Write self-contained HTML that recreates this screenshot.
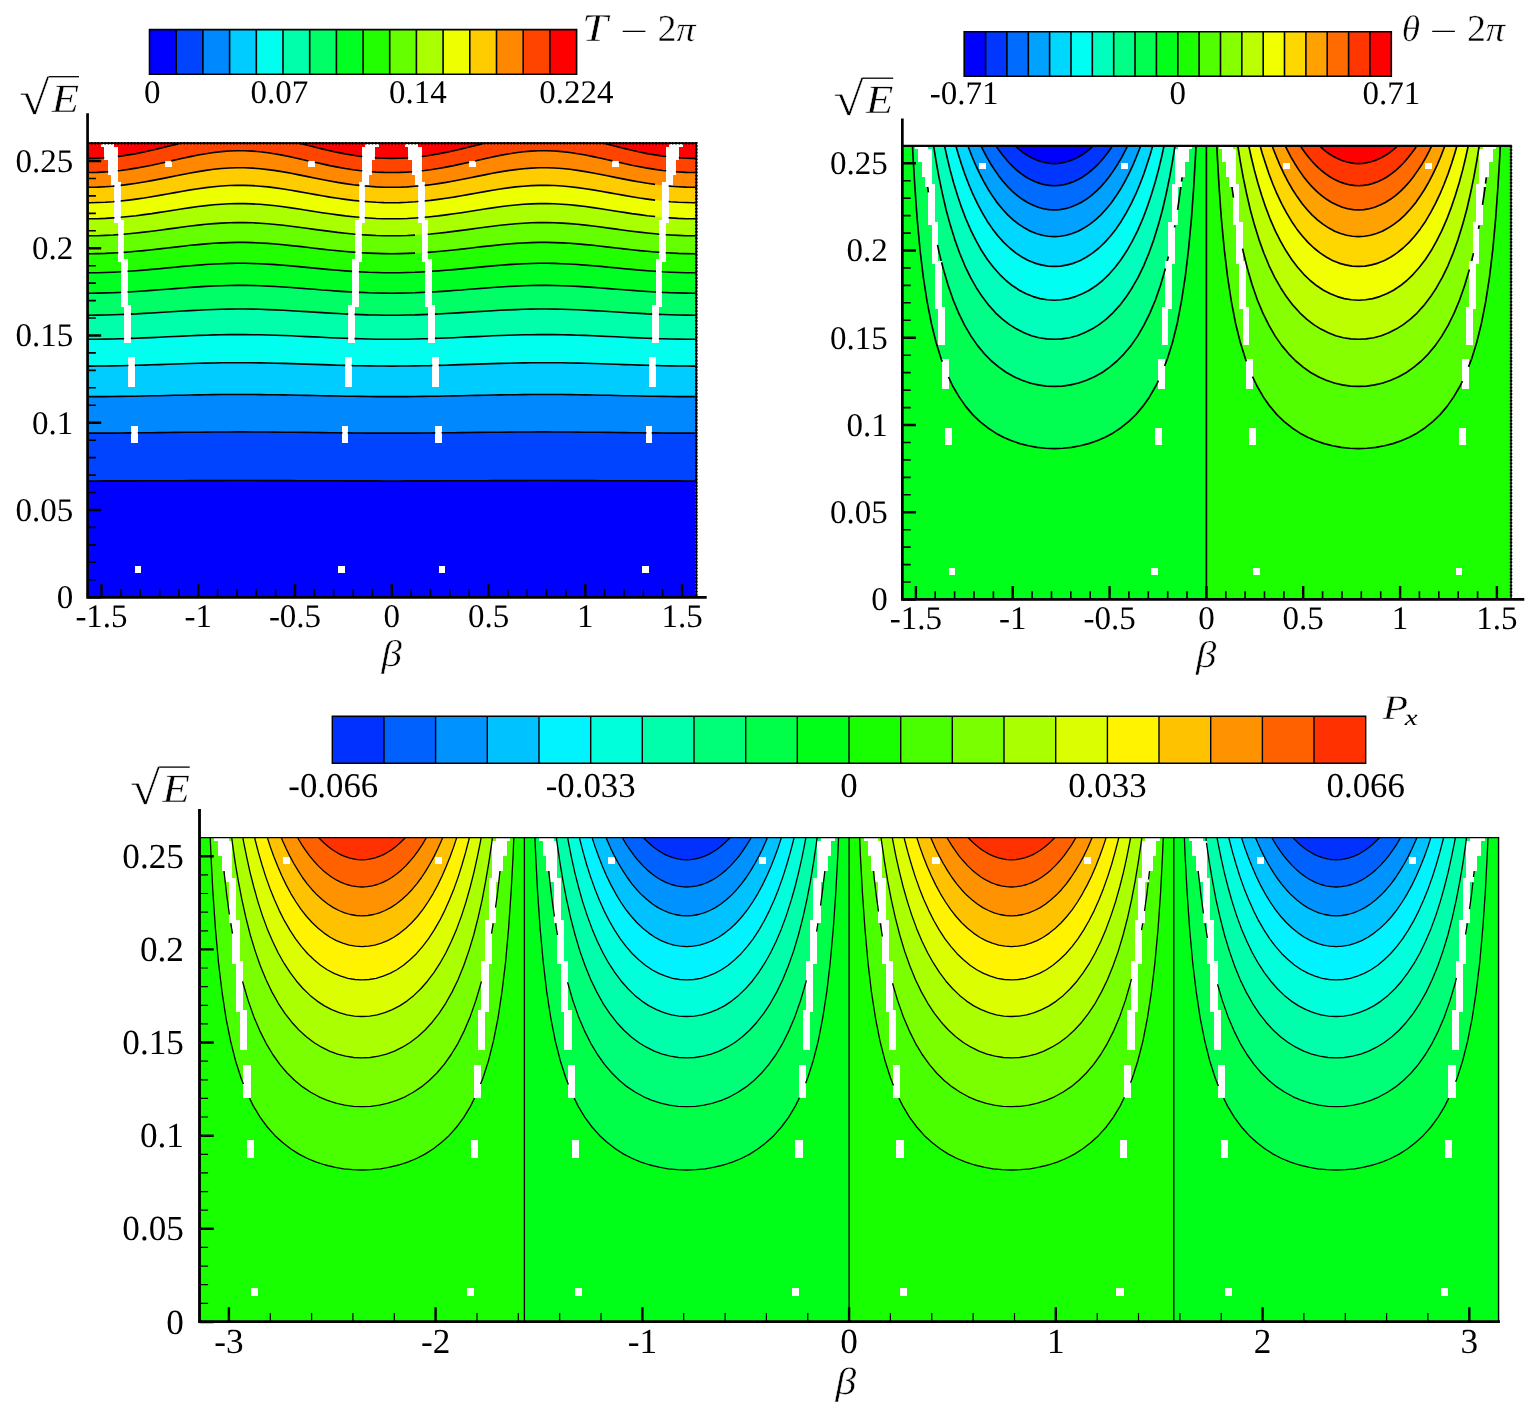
<!DOCTYPE html>
<html lang="en"><head><meta charset="utf-8"><title>Contour plots</title>
<style>html,body{margin:0;padding:0;background:#fff;overflow:hidden}svg{display:block}text{font-family:"Liberation Serif","DejaVu Serif",serif;fill:#000;text-rendering:geometricPrecision}.i{font-style:italic}.t{stroke:#fff;stroke-width:.45px}</style></head><body>
<svg width="1539" height="1411" viewBox="0 0 1539 1411">
<rect width="1539" height="1411" fill="#fff"/>
<clipPath id="c1"><rect x="87.8" y="143.2" width="607.9" height="454"/></clipPath>
<g clip-path="url(#c1)" stroke="#000" stroke-width="1.6" stroke-linejoin="round">
<rect x="87.8" y="143.2" width="607.9" height="454" fill="#0000ff" stroke="none"/>
<path d="M82 481L89.8 481L97.5 481L105.3 480.9L113 480.9L120.7 480.9L128.5 480.9L136.2 480.9L144 480.8L151.7 480.8L159.5 480.8L167.2 480.7L175 480.7L182.7 480.7L190.4 480.6L198.2 480.6L205.9 480.6L213.7 480.6L221.4 480.6L229.2 480.5L236.9 480.5L244.6 480.5L252.4 480.5L260.1 480.6L267.9 480.6L275.6 480.6L283.4 480.6L291.1 480.6L298.9 480.7L306.6 480.7L314.3 480.7L322.1 480.8L329.8 480.8L337.6 480.8L345.3 480.9L353.1 480.9L360.8 480.9L368.5 480.9L376.3 480.9L384 481L391.8 481L399.5 481L407.3 480.9L415 480.9L422.8 480.9L430.5 480.9L438.2 480.9L446 480.8L453.7 480.8L461.5 480.8L469.2 480.7L477 480.7L484.7 480.7L492.5 480.6L500.2 480.6L507.9 480.6L515.7 480.6L523.4 480.6L531.2 480.5L538.9 480.5L546.7 480.5L554.4 480.5L562.1 480.6L569.9 480.6L577.6 480.6L585.4 480.6L593.1 480.6L600.9 480.7L608.6 480.7L616.4 480.7L624.1 480.8L631.8 480.8L639.6 480.8L647.3 480.9L655.1 480.9L662.8 480.9L670.6 480.9L678.3 480.9L686 481L693.8 481L701.5 481L701.5 133.2L82 133.2Z" fill="#0044ff" stroke="none"/>
<path d="M82 433.1L89.8 433.1L97.5 433.1L105.3 433.1L113 433.1L120.7 433L128.5 432.9L136.2 432.9L144 432.8L151.7 432.7L159.5 432.6L167.2 432.5L175 432.4L182.7 432.3L190.4 432.2L198.2 432.2L205.9 432.1L213.7 432L221.4 432L229.2 432L236.9 431.9L244.6 431.9L252.4 432L260.1 432L267.9 432L275.6 432.1L283.4 432.2L291.1 432.3L298.9 432.3L306.6 432.4L314.3 432.5L322.1 432.6L329.8 432.7L337.6 432.8L345.3 432.9L353.1 433L360.8 433L368.5 433.1L376.3 433.1L384 433.1L391.8 433.1L399.5 433.1L407.3 433.1L415 433.1L422.8 433L430.5 433L438.2 432.9L446 432.8L453.7 432.7L461.5 432.6L469.2 432.5L477 432.4L484.7 432.3L492.5 432.3L500.2 432.2L507.9 432.1L515.7 432L523.4 432L531.2 432L538.9 431.9L546.7 431.9L554.4 432L562.1 432L569.9 432L577.6 432.1L585.4 432.2L593.1 432.2L600.9 432.3L608.6 432.4L616.4 432.5L624.1 432.6L631.8 432.7L639.6 432.8L647.3 432.9L655.1 432.9L662.8 433L670.6 433.1L678.3 433.1L686 433.1L693.8 433.1L701.5 433.1L701.5 133.2L82 133.2Z" fill="#0088ff" stroke="none"/>
<path d="M82 396.6L89.8 396.6L97.5 396.6L105.3 396.6L113 396.5L120.7 396.4L128.5 396.3L136.2 396.2L144 396L151.7 395.8L159.5 395.7L167.2 395.5L175 395.3L182.7 395.2L190.4 395L198.2 394.9L205.9 394.7L213.7 394.6L221.4 394.5L229.2 394.5L236.9 394.5L244.6 394.5L252.4 394.5L260.1 394.6L267.9 394.7L275.6 394.8L283.4 394.9L291.1 395L298.9 395.2L306.6 395.4L314.3 395.5L322.1 395.7L329.8 395.9L337.6 396L345.3 396.2L353.1 396.3L360.8 396.4L368.5 396.5L376.3 396.6L384 396.6L391.8 396.6L399.5 396.6L407.3 396.6L415 396.5L422.8 396.4L430.5 396.3L438.2 396.2L446 396L453.7 395.9L461.5 395.7L469.2 395.5L477 395.4L484.7 395.2L492.5 395L500.2 394.9L507.9 394.8L515.7 394.7L523.4 394.6L531.2 394.5L538.9 394.5L546.7 394.5L554.4 394.5L562.1 394.5L569.9 394.6L577.6 394.7L585.4 394.9L593.1 395L600.9 395.2L608.6 395.3L616.4 395.5L624.1 395.7L631.8 395.8L639.6 396L647.3 396.2L655.1 396.3L662.8 396.4L670.6 396.5L678.3 396.6L686 396.6L693.8 396.6L701.5 396.6L701.5 133.2L82 133.2Z" fill="#00ccff" stroke="none"/>
<path d="M82 366.1L89.8 366.1L97.5 366L105.3 366L113 365.9L120.7 365.7L128.5 365.5L136.2 365.3L144 365.1L151.7 364.8L159.5 364.6L167.2 364.3L175 364L182.7 363.8L190.4 363.5L198.2 363.3L205.9 363.1L213.7 363L221.4 362.8L229.2 362.8L236.9 362.7L244.6 362.7L252.4 362.8L260.1 362.9L267.9 363L275.6 363.2L283.4 363.4L291.1 363.6L298.9 363.9L306.6 364.1L314.3 364.4L322.1 364.6L329.8 364.9L337.6 365.2L345.3 365.4L353.1 365.6L360.8 365.8L368.5 365.9L376.3 366L384 366L391.8 366.1L399.5 366L407.3 366L415 365.9L422.8 365.8L430.5 365.6L438.2 365.4L446 365.2L453.7 364.9L461.5 364.6L469.2 364.4L477 364.1L484.7 363.9L492.5 363.6L500.2 363.4L507.9 363.2L515.7 363L523.4 362.9L531.2 362.8L538.9 362.7L546.7 362.7L554.4 362.8L562.1 362.8L569.9 363L577.6 363.1L585.4 363.3L593.1 363.5L600.9 363.8L608.6 364L616.4 364.3L624.1 364.6L631.8 364.8L639.6 365.1L647.3 365.3L655.1 365.5L662.8 365.7L670.6 365.9L678.3 366L686 366L693.8 366.1L701.5 366.1L701.5 133.2L82 133.2Z" fill="#00ffee" stroke="none"/>
<path d="M82 339.3L89.8 339.3L97.5 339.2L105.3 339.1L113 339L120.7 338.8L128.5 338.5L136.2 338.2L144 337.9L151.7 337.6L159.5 337.2L167.2 336.8L175 336.5L182.7 336.1L190.4 335.8L198.2 335.4L205.9 335.2L213.7 334.9L221.4 334.8L229.2 334.6L236.9 334.6L244.6 334.6L252.4 334.7L260.1 334.8L267.9 335L275.6 335.2L283.4 335.5L291.1 335.8L298.9 336.2L306.6 336.6L314.3 336.9L322.1 337.3L329.8 337.7L337.6 338L345.3 338.3L353.1 338.6L360.8 338.8L368.5 339L376.3 339.2L384 339.2L391.8 339.3L399.5 339.2L407.3 339.2L415 339L422.8 338.8L430.5 338.6L438.2 338.3L446 338L453.7 337.7L461.5 337.3L469.2 336.9L477 336.6L484.7 336.2L492.5 335.8L500.2 335.5L507.9 335.2L515.7 335L523.4 334.8L531.2 334.7L538.9 334.6L546.7 334.6L554.4 334.6L562.1 334.8L569.9 334.9L577.6 335.2L585.4 335.4L593.1 335.8L600.9 336.1L608.6 336.5L616.4 336.8L624.1 337.2L631.8 337.6L639.6 337.9L647.3 338.2L655.1 338.5L662.8 338.8L670.6 339L678.3 339.1L686 339.2L693.8 339.3L701.5 339.3L701.5 133.2L82 133.2Z" fill="#00ffaa" stroke="none"/>
<path d="M82 315.2L89.8 315.2L97.5 315.1L105.3 315L113 314.8L120.7 314.5L128.5 314.2L136.2 313.9L144 313.4L151.7 313L159.5 312.5L167.2 312L175 311.5L182.7 311L190.4 310.6L198.2 310.2L205.9 309.8L213.7 309.5L221.4 309.3L229.2 309.1L236.9 309L244.6 309L252.4 309.1L260.1 309.3L267.9 309.6L275.6 309.9L283.4 310.3L291.1 310.7L298.9 311.2L306.6 311.6L314.3 312.1L322.1 312.6L329.8 313.1L337.6 313.5L345.3 314L353.1 314.3L360.8 314.6L368.5 314.9L376.3 315L384 315.2L391.8 315.2L399.5 315.2L407.3 315L415 314.9L422.8 314.6L430.5 314.3L438.2 314L446 313.5L453.7 313.1L461.5 312.6L469.2 312.1L477 311.6L484.7 311.2L492.5 310.7L500.2 310.3L507.9 309.9L515.7 309.6L523.4 309.3L531.2 309.1L538.9 309L546.7 309L554.4 309.1L562.1 309.3L569.9 309.5L577.6 309.8L585.4 310.2L593.1 310.6L600.9 311L608.6 311.5L616.4 312L624.1 312.5L631.8 313L639.6 313.4L647.3 313.9L655.1 314.2L662.8 314.5L670.6 314.8L678.3 315L686 315.1L693.8 315.2L701.5 315.2L701.5 133.2L82 133.2Z" fill="#00ff66" stroke="none"/>
<path d="M82 293.1L89.8 293.2L97.5 293.1L105.3 292.9L113 292.7L120.7 292.4L128.5 292L136.2 291.5L144 291L151.7 290.4L159.5 289.8L167.2 289.2L175 288.6L182.7 288L190.4 287.4L198.2 286.9L205.9 286.4L213.7 286L221.4 285.7L229.2 285.5L236.9 285.4L244.6 285.4L252.4 285.5L260.1 285.8L267.9 286.1L275.6 286.5L283.4 287L291.1 287.5L298.9 288.1L306.6 288.7L314.3 289.3L322.1 290L329.8 290.5L337.6 291.1L345.3 291.6L353.1 292.1L360.8 292.4L368.5 292.8L376.3 293L384 293.1L391.8 293.2L399.5 293.1L407.3 293L415 292.8L422.8 292.4L430.5 292.1L438.2 291.6L446 291.1L453.7 290.5L461.5 290L469.2 289.3L477 288.7L484.7 288.1L492.5 287.5L500.2 287L507.9 286.5L515.7 286.1L523.4 285.8L531.2 285.5L538.9 285.4L546.7 285.4L554.4 285.5L562.1 285.7L569.9 286L577.6 286.4L585.4 286.9L593.1 287.4L600.9 288L608.6 288.6L616.4 289.2L624.1 289.8L631.8 290.4L639.6 291L647.3 291.5L655.1 292L662.8 292.4L670.6 292.7L678.3 292.9L686 293.1L693.8 293.2L701.5 293.1L701.5 133.2L82 133.2Z" fill="#00ff22" stroke="none"/>
<path d="M82 272.7L89.8 272.8L97.5 272.7L105.3 272.5L113 272.2L120.7 271.8L128.5 271.3L136.2 270.7L144 270.1L151.7 269.4L159.5 268.7L167.2 267.9L175 267.2L182.7 266.4L190.4 265.7L198.2 265.1L205.9 264.5L213.7 264L221.4 263.7L229.2 263.4L236.9 263.3L244.6 263.3L252.4 263.5L260.1 263.7L267.9 264.1L275.6 264.6L283.4 265.2L291.1 265.9L298.9 266.6L306.6 267.4L314.3 268.1L322.1 268.9L329.8 269.6L337.6 270.3L345.3 270.9L353.1 271.4L360.8 271.9L368.5 272.3L376.3 272.5L384 272.7L391.8 272.8L399.5 272.7L407.3 272.5L415 272.3L422.8 271.9L430.5 271.4L438.2 270.9L446 270.3L453.7 269.6L461.5 268.9L469.2 268.1L477 267.4L484.7 266.6L492.5 265.9L500.2 265.2L507.9 264.6L515.7 264.1L523.4 263.7L531.2 263.5L538.9 263.3L546.7 263.3L554.4 263.4L562.1 263.7L569.9 264L577.6 264.5L585.4 265.1L593.1 265.7L600.9 266.4L608.6 267.2L616.4 267.9L624.1 268.7L631.8 269.4L639.6 270.1L647.3 270.7L655.1 271.3L662.8 271.8L670.6 272.2L678.3 272.5L686 272.7L693.8 272.8L701.5 272.7L701.5 133.2L82 133.2Z" fill="#22ff00" stroke="none"/>
<path d="M82 253.7L89.8 253.7L97.5 253.6L105.3 253.4L113 253L120.7 252.6L128.5 252L136.2 251.3L144 250.6L151.7 249.8L159.5 248.9L167.2 248L175 247.1L182.7 246.2L190.4 245.3L198.2 244.6L205.9 243.9L213.7 243.3L221.4 242.9L229.2 242.6L236.9 242.4L244.6 242.4L252.4 242.6L260.1 243L267.9 243.4L275.6 244L283.4 244.8L291.1 245.6L298.9 246.4L306.6 247.3L314.3 248.2L322.1 249.1L329.8 250L337.6 250.8L345.3 251.5L353.1 252.1L360.8 252.7L368.5 253.1L376.3 253.4L384 253.6L391.8 253.7L399.5 253.6L407.3 253.4L415 253.1L422.8 252.7L430.5 252.1L438.2 251.5L446 250.8L453.7 250L461.5 249.1L469.2 248.2L477 247.3L484.7 246.4L492.5 245.6L500.2 244.8L507.9 244L515.7 243.4L523.4 243L531.2 242.6L538.9 242.4L546.7 242.4L554.4 242.6L562.1 242.9L569.9 243.3L577.6 243.9L585.4 244.6L593.1 245.3L600.9 246.2L608.6 247.1L616.4 248L624.1 248.9L631.8 249.8L639.6 250.6L647.3 251.3L655.1 252L662.8 252.6L670.6 253L678.3 253.4L686 253.6L693.8 253.7L701.5 253.7L701.5 133.2L82 133.2Z" fill="#66ff00" stroke="none"/>
<path d="M82 235.7L89.8 235.8L97.5 235.7L105.3 235.4L113 235L120.7 234.5L128.5 233.8L136.2 233L144 232.1L151.7 231.2L159.5 230.2L167.2 229.1L175 228.1L182.7 227L190.4 226L198.2 225.1L205.9 224.3L213.7 223.6L221.4 223.1L229.2 222.7L236.9 222.6L244.6 222.6L252.4 222.8L260.1 223.2L267.9 223.8L275.6 224.5L283.4 225.3L291.1 226.3L298.9 227.3L306.6 228.3L314.3 229.4L322.1 230.4L329.8 231.4L337.6 232.4L345.3 233.2L353.1 234L360.8 234.6L368.5 235.1L376.3 235.5L384 235.7L391.8 235.8L399.5 235.7L407.3 235.5L415 235.1L422.8 234.6L430.5 234L438.2 233.2L446 232.4L453.7 231.4L461.5 230.4L469.2 229.4L477 228.3L484.7 227.3L492.5 226.3L500.2 225.3L507.9 224.5L515.7 223.8L523.4 223.2L531.2 222.8L538.9 222.6L546.7 222.6L554.4 222.7L562.1 223.1L569.9 223.6L577.6 224.3L585.4 225.1L593.1 226L600.9 227L608.6 228.1L616.4 229.1L624.1 230.2L631.8 231.2L639.6 232.1L647.3 233L655.1 233.8L662.8 234.5L670.6 235L678.3 235.4L686 235.7L693.8 235.8L701.5 235.7L701.5 133.2L82 133.2Z" fill="#aaff00" stroke="none"/>
<path d="M82 218.8L89.8 218.8L97.5 218.7L105.3 218.4L113 217.9L120.7 217.3L128.5 216.5L136.2 215.7L144 214.6L151.7 213.6L159.5 212.4L167.2 211.2L175 210L182.7 208.7L190.4 207.6L198.2 206.5L205.9 205.6L213.7 204.8L221.4 204.2L229.2 203.8L236.9 203.6L244.6 203.6L252.4 203.9L260.1 204.3L267.9 205L275.6 205.8L283.4 206.8L291.1 207.9L298.9 209L306.6 210.3L314.3 211.5L322.1 212.7L329.8 213.8L337.6 214.9L345.3 215.9L353.1 216.7L360.8 217.5L368.5 218L376.3 218.5L384 218.7L391.8 218.8L399.5 218.7L407.3 218.5L415 218L422.8 217.5L430.5 216.7L438.2 215.9L446 214.9L453.7 213.8L461.5 212.7L469.2 211.5L477 210.3L484.7 209L492.5 207.9L500.2 206.8L507.9 205.8L515.7 205L523.4 204.3L531.2 203.9L538.9 203.6L546.7 203.6L554.4 203.8L562.1 204.2L569.9 204.8L577.6 205.6L585.4 206.5L593.1 207.6L600.9 208.7L608.6 210L616.4 211.2L624.1 212.4L631.8 213.6L639.6 214.6L647.3 215.7L655.1 216.5L662.8 217.3L670.6 217.9L678.3 218.4L686 218.7L693.8 218.8L701.5 218.8L701.5 133.2L82 133.2Z" fill="#eeff00" stroke="none"/>
<path d="M82 202.6L89.8 202.7L97.5 202.5L105.3 202.2L113 201.7L120.7 201L128.5 200.1L136.2 199.1L144 198L151.7 196.7L159.5 195.4L167.2 194L175 192.6L182.7 191.3L190.4 189.9L198.2 188.7L205.9 187.6L213.7 186.7L221.4 186L229.2 185.5L236.9 185.3L244.6 185.4L252.4 185.6L260.1 186.2L267.9 186.9L275.6 187.9L283.4 189L291.1 190.3L298.9 191.6L306.6 193L314.3 194.4L322.1 195.7L329.8 197.1L337.6 198.3L345.3 199.4L353.1 200.4L360.8 201.2L368.5 201.8L376.3 202.3L384 202.6L391.8 202.7L399.5 202.6L407.3 202.3L415 201.8L422.8 201.2L430.5 200.4L438.2 199.4L446 198.3L453.7 197.1L461.5 195.7L469.2 194.4L477 193L484.7 191.6L492.5 190.3L500.2 189L507.9 187.9L515.7 186.9L523.4 186.2L531.2 185.6L538.9 185.4L546.7 185.3L554.4 185.5L562.1 186L569.9 186.7L577.6 187.6L585.4 188.7L593.1 189.9L600.9 191.3L608.6 192.6L616.4 194L624.1 195.4L631.8 196.7L639.6 198L647.3 199.1L655.1 200.1L662.8 201L670.6 201.7L678.3 202.2L686 202.5L693.8 202.7L701.5 202.6L701.5 133.2L82 133.2Z" fill="#ffcc00" stroke="none"/>
<path d="M82 187.2L89.8 187.3L97.5 187.1L105.3 186.7L113 186.2L120.7 185.4L128.5 184.4L136.2 183.3L144 182L151.7 180.6L159.5 179.1L167.2 177.6L175 176L182.7 174.5L190.4 173L198.2 171.6L205.9 170.4L213.7 169.3L221.4 168.5L229.2 168L236.9 167.7L244.6 167.7L252.4 168.1L260.1 168.7L267.9 169.6L275.6 170.6L283.4 171.9L291.1 173.3L298.9 174.9L306.6 176.4L314.3 178L322.1 179.5L329.8 181L337.6 182.4L345.3 183.6L353.1 184.7L360.8 185.6L368.5 186.3L376.3 186.9L384 187.2L391.8 187.3L399.5 187.2L407.3 186.9L415 186.3L422.8 185.6L430.5 184.7L438.2 183.6L446 182.4L453.7 181L461.5 179.5L469.2 178L477 176.4L484.7 174.9L492.5 173.3L500.2 171.9L507.9 170.6L515.7 169.6L523.4 168.7L531.2 168.1L538.9 167.7L546.7 167.7L554.4 168L562.1 168.5L569.9 169.3L577.6 170.4L585.4 171.6L593.1 173L600.9 174.5L608.6 176L616.4 177.6L624.1 179.1L631.8 180.6L639.6 182L647.3 183.3L655.1 184.4L662.8 185.4L670.6 186.2L678.3 186.7L686 187.1L693.8 187.3L701.5 187.2L701.5 133.2L82 133.2Z" fill="#ff8800" stroke="none"/>
<path d="M82 172.5L89.8 172.5L97.5 172.4L105.3 171.9L113 171.3L120.7 170.5L128.5 169.4L136.2 168.1L144 166.7L151.7 165.2L159.5 163.5L167.2 161.8L175 160L182.7 158.3L190.4 156.6L198.2 155L205.9 153.7L213.7 152.5L221.4 151.6L229.2 151L236.9 150.7L244.6 150.7L252.4 151.1L260.1 151.8L267.9 152.8L275.6 154L283.4 155.4L291.1 157L298.9 158.7L306.6 160.5L314.3 162.2L322.1 163.9L329.8 165.6L337.6 167.1L345.3 168.5L353.1 169.7L360.8 170.7L368.5 171.5L376.3 172.1L384 172.4L391.8 172.5L399.5 172.4L407.3 172.1L415 171.5L422.8 170.7L430.5 169.7L438.2 168.5L446 167.1L453.7 165.6L461.5 163.9L469.2 162.2L477 160.5L484.7 158.7L492.5 157L500.2 155.4L507.9 154L515.7 152.8L523.4 151.8L531.2 151.1L538.9 150.7L546.7 150.7L554.4 151L562.1 151.6L569.9 152.5L577.6 153.7L585.4 155L593.1 156.6L600.9 158.3L608.6 160L616.4 161.8L624.1 163.5L631.8 165.2L639.6 166.7L647.3 168.1L655.1 169.4L662.8 170.5L670.6 171.3L678.3 171.9L686 172.4L693.8 172.5L701.5 172.5L701.5 133.2L82 133.2Z" fill="#ff4400" stroke="none"/>
<path d="M82 158.3L89.8 158.4L97.5 158.2L105.3 157.7L113 157L120.7 156.1L128.5 154.9L136.2 153.6L144 152L151.7 150.3L159.5 148.4L167.2 146.5L175 144.6L182.7 142.6L190.4 140.8L198.2 139L205.9 137.5L213.7 136.2L221.4 135.1L229.2 134.4L236.9 134.1L244.6 134.2L252.4 134.6L260.1 135.4L267.9 136.5L275.6 137.8L283.4 139.5L291.1 141.2L298.9 143.1L306.6 145.1L314.3 147L322.1 148.9L329.8 150.7L337.6 152.4L345.3 153.9L353.1 155.2L360.8 156.4L368.5 157.2L376.3 157.9L384 158.3L391.8 158.4L399.5 158.3L407.3 157.9L415 157.2L422.8 156.4L430.5 155.2L438.2 153.9L446 152.4L453.7 150.7L461.5 148.9L469.2 147L477 145.1L484.7 143.1L492.5 141.2L500.2 139.5L507.9 137.8L515.7 136.5L523.4 135.4L531.2 134.6L538.9 134.2L546.7 134.1L554.4 134.4L562.1 135.1L569.9 136.2L577.6 137.5L585.4 139L593.1 140.8L600.9 142.6L608.6 144.6L616.4 146.5L624.1 148.4L631.8 150.3L639.6 152L647.3 153.6L655.1 154.9L662.8 156.1L670.6 157L678.3 157.7L686 158.2L693.8 158.4L701.5 158.3L701.5 133.2L82 133.2Z" fill="#ff0000" stroke="none"/>
<path d="M101 140H114V147H101ZM365 140H379V147H365ZM104 147H118V160H104ZM362 147H375V160H362ZM108 160H118V175H108ZM362 160H372V175H362ZM111 175H118V182H111ZM362 175H369V182H362ZM111 182H121V185H111ZM359 182H369V185H359ZM114 185H121V220H114ZM359 185H365V220H359ZM114 220H124V223H114ZM355 220H365V223H355ZM118 223H124V259H118ZM355 223H362V259H355ZM118 259H128V262H118ZM352 259H362V262H352ZM121 262H128V305H121ZM352 262H359V305H352ZM121 305H131V307H121ZM348 305H359V307H348ZM124 307H131V343H124ZM348 307H355V343H348ZM128 357H135V387H128ZM345 357H352V387H345ZM131 426H138V443H131ZM342 426H348V443H342ZM135 566H141V573H135ZM338 566H345V573H338ZM165 161H172V167H165ZM308 161H315V167H308ZM405 140H418V147H405ZM669 140H683V147H669ZM408 147H422V160H408ZM666 147H679V160H666ZM412 160H422V175H412ZM666 160H676V175H666ZM415 175H422V182H415ZM666 175H673V182H666ZM415 182H425V185H415ZM662 182H673V185H662ZM418 185H425V220H418ZM662 185H669V220H662ZM418 220H428V223H418ZM659 220H669V223H659ZM422 223H428V259H422ZM659 223H666V259H659ZM422 259H432V262H422ZM656 259H666V262H656ZM425 262H432V305H425ZM656 262H662V305H656ZM425 305H435V307H425ZM652 305H662V307H652ZM428 307H435V343H428ZM652 307H659V343H652ZM432 357H439V387H432ZM649 357H656V387H649ZM435 426H442V443H435ZM646 426H652V443H646ZM439 566H445V573H439ZM642 566H649V573H642ZM469 161H476V167H469ZM612 161H619V167H612Z" fill="#fff" stroke="none"/>
<path d="M82 481L89.8 481L97.5 481L105.3 480.9L113 480.9L120.7 480.9L128.5 480.9L136.2 480.9L144 480.8L151.7 480.8L159.5 480.8L167.2 480.7L175 480.7L182.7 480.7L190.4 480.6L198.2 480.6L205.9 480.6L213.7 480.6L221.4 480.6L229.2 480.5L236.9 480.5L244.6 480.5L252.4 480.5L260.1 480.6L267.9 480.6L275.6 480.6L283.4 480.6L291.1 480.6L298.9 480.7L306.6 480.7L314.3 480.7L322.1 480.8L329.8 480.8L337.6 480.8L345.3 480.9L353.1 480.9L360.8 480.9L368.5 480.9L376.3 480.9L384 481L391.8 481L399.5 481L407.3 480.9L415 480.9L422.8 480.9L430.5 480.9L438.2 480.9L446 480.8L453.7 480.8L461.5 480.8L469.2 480.7L477 480.7L484.7 480.7L492.5 480.6L500.2 480.6L507.9 480.6L515.7 480.6L523.4 480.6L531.2 480.5L538.9 480.5L546.7 480.5L554.4 480.5L562.1 480.6L569.9 480.6L577.6 480.6L585.4 480.6L593.1 480.6L600.9 480.7L608.6 480.7L616.4 480.7L624.1 480.8L631.8 480.8L639.6 480.8L647.3 480.9L655.1 480.9L662.8 480.9L670.6 480.9L678.3 480.9L686 481L693.8 481L701.5 481M82 433.1L89.8 433.1L97.5 433.1L105.3 433.1L113 433.1L120.7 433L128.5 432.9L131.4 432.9M137.7 432.8L144 432.8L151.7 432.7L159.5 432.6L167.2 432.5L175 432.4L182.7 432.3L190.4 432.2L198.2 432.2L205.9 432.1L213.7 432L221.4 432L229.2 432L236.9 431.9L244.6 431.9L252.4 432L260.1 432L267.9 432L275.6 432.1L283.4 432.2L291.1 432.3L298.9 432.3L306.6 432.4L314.3 432.5L322.1 432.6L329.8 432.7L337.6 432.8L342.4 432.9M347.7 432.9L353.1 433L360.8 433L368.5 433.1L376.3 433.1L384 433.1L391.8 433.1L399.5 433.1L407.3 433.1L415 433.1L422.8 433L430.5 433L435.3 432.9M441.6 432.8L446 432.8L453.7 432.7L461.5 432.6L469.2 432.5L477 432.4L484.7 432.3L492.5 432.3L500.2 432.2L507.9 432.1L515.7 432L523.4 432L531.2 432L538.9 431.9L546.7 431.9L554.4 432L562.1 432L569.9 432L577.6 432.1L585.4 432.2L593.1 432.2L600.9 432.3L608.6 432.4L616.4 432.5L624.1 432.6L631.8 432.7L639.6 432.8L646.4 432.9M651.7 432.9L655.1 432.9L662.8 433L670.6 433.1L678.3 433.1L686 433.1L693.8 433.1L701.5 433.1M82 396.6L89.8 396.6L97.5 396.6L105.3 396.6L113 396.5L120.7 396.4L128.5 396.3L136.2 396.2L144 396L151.7 395.8L159.5 395.7L167.2 395.5L175 395.3L182.7 395.2L190.4 395L198.2 394.9L205.9 394.7L213.7 394.6L221.4 394.5L229.2 394.5L236.9 394.5L244.6 394.5L252.4 394.5L260.1 394.6L267.9 394.7L275.6 394.8L283.4 394.9L291.1 395L298.9 395.2L306.6 395.4L314.3 395.5L322.1 395.7L329.8 395.9L337.6 396L345.3 396.2L353.1 396.3L360.8 396.4L368.5 396.5L376.3 396.6L384 396.6L391.8 396.6L399.5 396.6L407.3 396.6L415 396.5L422.8 396.4L430.5 396.3L438.2 396.2L446 396L453.7 395.9L461.5 395.7L469.2 395.5L477 395.4L484.7 395.2L492.5 395L500.2 394.9L507.9 394.8L515.7 394.7L523.4 394.6L531.2 394.5L538.9 394.5L546.7 394.5L554.4 394.5L562.1 394.5L569.9 394.6L577.6 394.7L585.4 394.9L593.1 395L600.9 395.2L608.6 395.3L616.4 395.5L624.1 395.7L631.8 395.8L639.6 396L647.3 396.2L655.1 396.3L662.8 396.4L670.6 396.5L678.3 396.6L686 396.6L693.8 396.6L701.5 396.6M82 366.1L89.8 366.1L97.5 366L105.3 366L113 365.9L120.7 365.7L128.5 365.5M134.8 365.4L136.2 365.3L144 365.1L151.7 364.8L159.5 364.6L167.2 364.3L175 364L182.7 363.8L190.4 363.5L198.2 363.3L205.9 363.1L213.7 363L221.4 362.8L229.2 362.8L236.9 362.7L244.6 362.7L252.4 362.8L260.1 362.9L267.9 363L275.6 363.2L283.4 363.4L291.1 363.6L298.9 363.9L306.6 364.1L314.3 364.4L322.1 364.6L329.8 364.9L337.6 365.2L345.3 365.4M351.6 365.5L353.1 365.6L360.8 365.8L368.5 365.9L376.3 366L384 366L391.8 366.1L399.5 366L407.3 366L415 365.9L422.8 365.8L430.5 365.6L432.4 365.5M438.7 365.4L446 365.2L453.7 364.9L461.5 364.6L469.2 364.4L477 364.1L484.7 363.9L492.5 363.6L500.2 363.4L507.9 363.2L515.7 363L523.4 362.9L531.2 362.8L538.9 362.7L546.7 362.7L554.4 362.8L562.1 362.8L569.9 363L577.6 363.1L585.4 363.3L593.1 363.5L600.9 363.8L608.6 364L616.4 364.3L624.1 364.6L631.8 364.8L639.6 365.1L647.3 365.3L649.3 365.4M655.6 365.5L662.8 365.7L670.6 365.9L678.3 366L686 366L693.8 366.1L701.5 366.1M82 339.3L89.8 339.3L97.5 339.2L105.3 339.1L113 339L120.7 338.8L124.1 338.7M130.9 338.4L136.2 338.2L144 337.9L151.7 337.6L159.5 337.2L167.2 336.8L175 336.5L182.7 336.1L190.4 335.8L198.2 335.4L205.9 335.2L213.7 334.9L221.4 334.8L229.2 334.6L236.9 334.6L244.6 334.6L252.4 334.7L260.1 334.8L267.9 335L275.6 335.2L283.4 335.5L291.1 335.8L298.9 336.2L306.6 336.6L314.3 336.9L322.1 337.3L329.8 337.7L337.6 338L345.3 338.3L348.2 338.4M354.5 338.6L360.8 338.8L368.5 339L376.3 339.2L384 339.2L391.8 339.3L399.5 339.2L407.3 339.2L415 339L422.8 338.8L428.1 338.7M434.9 338.4L438.2 338.3L446 338L453.7 337.7L461.5 337.3L469.2 336.9L477 336.6L484.7 336.2L492.5 335.8L500.2 335.5L507.9 335.2L515.7 335L523.4 334.8L531.2 334.7L538.9 334.6L546.7 334.6L554.4 334.6L562.1 334.8L569.9 334.9L577.6 335.2L585.4 335.4L593.1 335.8L600.9 336.1L608.6 336.5L616.4 336.8L624.1 337.2L631.8 337.6L639.6 337.9L647.3 338.2L652.2 338.4M658.9 338.7L662.8 338.8L670.6 339L678.3 339.1L686 339.2L693.8 339.3L701.5 339.3M82 315.2L89.8 315.2L97.5 315.1L105.3 315L113 314.8L120.7 314.5L124.1 314.4M130.9 314.1L136.2 313.9L144 313.4L151.7 313L159.5 312.5L167.2 312L175 311.5L182.7 311L190.4 310.6L198.2 310.2L205.9 309.8L213.7 309.5L221.4 309.3L229.2 309.1L236.9 309L244.6 309L252.4 309.1L260.1 309.3L267.9 309.6L275.6 309.9L283.4 310.3L291.1 310.7L298.9 311.2L306.6 311.6L314.3 312.1L322.1 312.6L329.8 313.1L337.6 313.5L345.3 314L348.2 314.1M354.5 314.4L360.8 314.6L368.5 314.9L376.3 315L384 315.2L391.8 315.2L399.5 315.2L407.3 315L415 314.9L422.8 314.6L428.1 314.4M434.9 314.1L438.2 314L446 313.5L453.7 313.1L461.5 312.6L469.2 312.1L477 311.6L484.7 311.2L492.5 310.7L500.2 310.3L507.9 309.9L515.7 309.6L523.4 309.3L531.2 309.1L538.9 309L546.7 309L554.4 309.1L562.1 309.3L569.9 309.5L577.6 309.8L585.4 310.2L593.1 310.6L600.9 311L608.6 311.5L616.4 312L624.1 312.5L631.8 313L639.6 313.4L647.3 313.9L652.2 314.1M658.9 314.4L662.8 314.5L670.6 314.8L678.3 315L686 315.1L693.8 315.2L701.5 315.2M82 293.1L89.8 293.2L97.5 293.1L105.3 292.9L113 292.7L120.7 292.4L121.2 292.3M127.5 292L128.5 292L136.2 291.5L144 291L151.7 290.4L159.5 289.8L167.2 289.2L175 288.6L182.7 288L190.4 287.4L198.2 286.9L205.9 286.4L213.7 286L221.4 285.7L229.2 285.5L236.9 285.4L244.6 285.4L252.4 285.5L260.1 285.8L267.9 286.1L275.6 286.5L283.4 287L291.1 287.5L298.9 288.1L306.6 288.7L314.3 289.3L322.1 290L329.8 290.5L337.6 291.1L345.3 291.6L352.1 292M358.9 292.4L360.8 292.4L368.5 292.8L376.3 293L384 293.1L391.8 293.2L399.5 293.1L407.3 293L415 292.8L422.8 292.4L425.2 292.3M432 292L438.2 291.6L446 291.1L453.7 290.5L461.5 290L469.2 289.3L477 288.7L484.7 288.1L492.5 287.5L500.2 287L507.9 286.5L515.7 286.1L523.4 285.8L531.2 285.5L538.9 285.4L546.7 285.4L554.4 285.5L562.1 285.7L569.9 286L577.6 286.4L585.4 286.9L593.1 287.4L600.9 288L608.6 288.6L616.4 289.2L624.1 289.8L631.8 290.4L639.6 291L647.3 291.5L655.1 292L656 292M661.8 292.3L662.8 292.4L670.6 292.7L678.3 292.9L686 293.1L693.8 293.2L701.5 293.1M82 272.7L89.8 272.8L97.5 272.7L105.3 272.5L113 272.2L120.7 271.8L121.2 271.8M127.5 271.4L128.5 271.3L136.2 270.7L144 270.1L151.7 269.4L159.5 268.7L167.2 267.9L175 267.2L182.7 266.4L190.4 265.7L198.2 265.1L205.9 264.5L213.7 264L221.4 263.7L229.2 263.4L236.9 263.3L244.6 263.3L252.4 263.5L260.1 263.7L267.9 264.1L275.6 264.6L283.4 265.2L291.1 265.9L298.9 266.6L306.6 267.4L314.3 268.1L322.1 268.9L329.8 269.6L337.6 270.3L345.3 270.9L352.1 271.4M358.9 271.8L360.8 271.9L368.5 272.3L376.3 272.5L384 272.7L391.8 272.8L399.5 272.7L407.3 272.5L415 272.3L422.8 271.9L425.2 271.8M432 271.3L438.2 270.9L446 270.3L453.7 269.6L461.5 268.9L469.2 268.1L477 267.4L484.7 266.6L492.5 265.9L500.2 265.2L507.9 264.6L515.7 264.1L523.4 263.7L531.2 263.5L538.9 263.3L546.7 263.3L554.4 263.4L562.1 263.7L569.9 264L577.6 264.5L585.4 265.1L593.1 265.7L600.9 266.4L608.6 267.2L616.4 267.9L624.1 268.7L631.8 269.4L639.6 270.1L647.3 270.7L655.1 271.3L656 271.4M661.8 271.7L662.8 271.8L670.6 272.2L678.3 272.5L686 272.7L693.8 272.8L701.5 272.7M82 253.7L89.8 253.7L97.5 253.6L105.3 253.4L113 253L118.3 252.7M123.6 252.4L128.5 252L136.2 251.3L144 250.6L151.7 249.8L159.5 248.9L167.2 248L175 247.1L182.7 246.2L190.4 245.3L198.2 244.6L205.9 243.9L213.7 243.3L221.4 242.9L229.2 242.6L236.9 242.4L244.6 242.4L252.4 242.6L260.1 243L267.9 243.4L275.6 244L283.4 244.8L291.1 245.6L298.9 246.4L306.6 247.3L314.3 248.2L322.1 249.1L329.8 250L337.6 250.8L345.3 251.5L353.1 252.1L355.5 252.3M361.8 252.7L368.5 253.1L376.3 253.4L384 253.6L391.8 253.7L399.5 253.6L407.3 253.4L415 253.1M427.6 252.4L430.5 252.1L438.2 251.5L446 250.8L453.7 250L461.5 249.1L469.2 248.2L477 247.3L484.7 246.4L492.5 245.6L500.2 244.8L507.9 244L515.7 243.4L523.4 243L531.2 242.6L538.9 242.4L546.7 242.4L554.4 242.6L562.1 242.9L569.9 243.3L577.6 243.9L585.4 244.6L593.1 245.3L600.9 246.2L608.6 247.1L616.4 248L624.1 248.9L631.8 249.8L639.6 250.6L647.3 251.3L655.1 252L659.4 252.3M665.7 252.7L670.6 253L678.3 253.4L686 253.6L693.8 253.7L701.5 253.7M82 235.7L89.8 235.8L97.5 235.7L105.3 235.4L113 235L118.3 234.6M123.6 234.2L128.5 233.8L136.2 233L144 232.1L151.7 231.2L159.5 230.2L167.2 229.1L175 228.1L182.7 227L190.4 226L198.2 225.1L205.9 224.3L213.7 223.6L221.4 223.1L229.2 222.7L236.9 222.6L244.6 222.6L252.4 222.8L260.1 223.2L267.9 223.8L275.6 224.5L283.4 225.3L291.1 226.3L298.9 227.3L306.6 228.3L314.3 229.4L322.1 230.4L329.8 231.4L337.6 232.4L345.3 233.2L353.1 234L355.5 234.2M361.8 234.7L368.5 235.1L376.3 235.5L384 235.7L391.8 235.8L399.5 235.7L407.3 235.5L415 235.1M427.6 234.2L430.5 234L438.2 233.2L446 232.4L453.7 231.4L461.5 230.4L469.2 229.4L477 228.3L484.7 227.3L492.5 226.3L500.2 225.3L507.9 224.5L515.7 223.8L523.4 223.2L531.2 222.8L538.9 222.6L546.7 222.6L554.4 222.7L562.1 223.1L569.9 223.6L577.6 224.3L585.4 225.1L593.1 226L600.9 227L608.6 228.1L616.4 229.1L624.1 230.2L631.8 231.2L639.6 232.1L647.3 233L655.1 233.8L659.4 234.2M665.7 234.7L670.6 235L678.3 235.4L686 235.7L693.8 235.8L701.5 235.7M82 218.8L89.8 218.8L97.5 218.7L105.3 218.4L113 217.9L114.5 217.8M120.7 217.3L128.5 216.5L136.2 215.7L144 214.6L151.7 213.6L159.5 212.4L167.2 211.2L175 210L182.7 208.7L190.4 207.6L198.2 206.5L205.9 205.6L213.7 204.8L221.4 204.2L229.2 203.8L236.9 203.6L244.6 203.6L252.4 203.9L260.1 204.3L267.9 205L275.6 205.8L283.4 206.8L291.1 207.9L298.9 209L306.6 210.3L314.3 211.5L322.1 212.7L329.8 213.8L337.6 214.9L345.3 215.9L353.1 216.7L359.4 217.3M364.7 217.8L368.5 218L376.3 218.5L384 218.7L391.8 218.8L399.5 218.7L407.3 218.5L415 218L418.4 217.8M424.7 217.3L430.5 216.7L438.2 215.9L446 214.9L453.7 213.8L461.5 212.7L469.2 211.5L477 210.3L484.7 209L492.5 207.9L500.2 206.8L507.9 205.8L515.7 205L523.4 204.3L531.2 203.9L538.9 203.6L546.7 203.6L554.4 203.8L562.1 204.2L569.9 204.8L577.6 205.6L585.4 206.5L593.1 207.6L600.9 208.7L608.6 210L616.4 211.2L624.1 212.4L631.8 213.6L639.6 214.6L647.3 215.7L655.1 216.5M668.6 217.8L670.6 217.9L678.3 218.4L686 218.7L693.8 218.8L701.5 218.8M82 202.6L89.8 202.7L97.5 202.5L105.3 202.2L113 201.7L114.5 201.5M120.7 201L128.5 200.1L136.2 199.1L144 198L151.7 196.7L159.5 195.4L167.2 194L175 192.6L182.7 191.3L190.4 189.9L198.2 188.7L205.9 187.6L213.7 186.7L221.4 186L229.2 185.5L236.9 185.3L244.6 185.4L252.4 185.6L260.1 186.2L267.9 186.9L275.6 187.9L283.4 189L291.1 190.3L298.9 191.6L306.6 193L314.3 194.4L322.1 195.7L329.8 197.1L337.6 198.3L345.3 199.4L353.1 200.4L359.4 201M364.7 201.5L368.5 201.8L376.3 202.3L384 202.6L391.8 202.7L399.5 202.6L407.3 202.3L415 201.8L418.4 201.5M424.7 201L430.5 200.4L438.2 199.4L446 198.3L453.7 197.1L461.5 195.7L469.2 194.4L477 193L484.7 191.6L492.5 190.3L500.2 189L507.9 187.9L515.7 186.9L523.4 186.2L531.2 185.6L538.9 185.4L546.7 185.3L554.4 185.5L562.1 186L569.9 186.7L577.6 187.6L585.4 188.7L593.1 189.9L600.9 191.3L608.6 192.6L616.4 194L624.1 195.4L631.8 196.7L639.6 198L647.3 199.1L655.1 200.1M668.6 201.5L670.6 201.7L678.3 202.2L686 202.5L693.8 202.7L701.5 202.6M82 187.2L89.8 187.3L97.5 187.1L105.3 186.7L113 186.2L114.5 186M120.7 185.4L128.5 184.4L136.2 183.3L144 182L151.7 180.6L159.5 179.1L167.2 177.6L175 176L182.7 174.5L190.4 173L198.2 171.6L205.9 170.4L213.7 169.3L221.4 168.5L229.2 168L236.9 167.7L244.6 167.7L252.4 168.1L260.1 168.7L267.9 169.6L275.6 170.6L283.4 171.9L291.1 173.3L298.9 174.9L306.6 176.4L314.3 178L322.1 179.5L329.8 181L337.6 182.4L345.3 183.6L353.1 184.7L359.4 185.4M364.7 186L368.5 186.3L376.3 186.9L384 187.2L391.8 187.3L399.5 187.2L407.3 186.9L415 186.3L418.4 186M424.7 185.4L430.5 184.7L438.2 183.6L446 182.4L453.7 181L461.5 179.5L469.2 178L477 176.4L484.7 174.9L492.5 173.3L500.2 171.9L507.9 170.6L515.7 169.6L523.4 168.7L531.2 168.1L538.9 167.7L546.7 167.7L554.4 168L562.1 168.5L569.9 169.3L577.6 170.4L585.4 171.6L593.1 173L600.9 174.5L608.6 176L616.4 177.6L624.1 179.1L631.8 180.6L639.6 182L647.3 183.3L655.1 184.4M668.6 186L670.6 186.2L678.3 186.7L686 187.1L693.8 187.3L701.5 187.2M82 172.5L89.8 172.5L97.5 172.4L105.3 171.9L108.2 171.7M117.8 170.8L120.7 170.5L128.5 169.4L136.2 168.1L144 166.7L151.7 165.2L159.5 163.5L165.3 162.2M171.1 160.9L175 160L182.7 158.3L190.4 156.6L198.2 155L205.9 153.7L213.7 152.5L221.4 151.6L229.2 151L236.9 150.7L244.6 150.7L252.4 151.1L260.1 151.8L267.9 152.8L275.6 154L283.4 155.4L291.1 157L298.9 158.7L306.6 160.5L308.5 160.9M314.8 162.3L322.1 163.9L329.8 165.6L337.6 167.1L345.3 168.5L353.1 169.7L360.8 170.7L362.3 170.8M371.9 171.7L376.3 172.1L384 172.4L391.8 172.5L399.5 172.4L407.3 172.1L412.1 171.7M421.8 170.8L422.8 170.7L430.5 169.7L438.2 168.5L446 167.1L453.7 165.6L461.5 163.9L469.2 162.2M475 160.9L477 160.5L484.7 158.7L492.5 157L500.2 155.4L507.9 154L515.7 152.8L523.4 151.8L531.2 151.1L538.9 150.7L546.7 150.7L554.4 151L562.1 151.6L569.9 152.5L577.6 153.7L585.4 155L593.1 156.6L600.9 158.3L608.6 160L612.5 160.9M618.8 162.3L624.1 163.5L631.8 165.2L639.6 166.7L647.3 168.1L655.1 169.4L662.8 170.5L666.2 170.8M675.9 171.7L678.3 171.9L686 172.4L693.8 172.5L701.5 172.5M82 158.3L89.8 158.4L97.5 158.2L104.3 157.8M117.8 156.4L120.7 156.1L128.5 154.9L136.2 153.6L144 152L151.7 150.3L159.5 148.4L167.2 146.5L175 144.6L182.7 142.6L190.4 140.8L198.2 139L205.9 137.5L213.7 136.2L221.4 135.1L229.2 134.4L236.9 134.1L244.6 134.2L252.4 134.6L260.1 135.4L267.9 136.5L275.6 137.8L283.4 139.5L291.1 141.2L298.9 143.1L306.6 145.1L314.3 147L322.1 148.9L329.8 150.7L337.6 152.4L345.3 153.9L353.1 155.2L360.8 156.4L362.3 156.5M374.8 157.8L376.3 157.9L384 158.3L391.8 158.4L399.5 158.3L407.3 157.9L408.2 157.8M421.8 156.5L422.8 156.4L430.5 155.2L438.2 153.9L446 152.4L453.7 150.7L461.5 148.9L469.2 147L477 145.1L484.7 143.1L492.5 141.2L500.2 139.5L507.9 137.8L515.7 136.5L523.4 135.4L531.2 134.6L538.9 134.2L546.7 134.1L554.4 134.4L562.1 135.1L569.9 136.2L577.6 137.5L585.4 139L593.1 140.8L600.9 142.6L608.6 144.6L616.4 146.5L624.1 148.4L631.8 150.3L639.6 152L647.3 153.6L655.1 154.9L662.8 156.1L666.2 156.5M678.8 157.8L686 158.2L693.8 158.4L701.5 158.3" fill="none"/>
</g>
<clipPath id="c2"><rect x="902.2" y="145.8" width="608.5" height="453.7"/></clipPath>
<g clip-path="url(#c2)" stroke="#000" stroke-width="1.65" stroke-linejoin="round">
<rect x="902.2" y="145.8" width="304.2" height="453.7" fill="#00ff1b" stroke="none"/>
<path d="M910.7 102.2L911 109.2L911.7 128.4L913 155.9L914.9 187.3L917.2 219.2L920 249.5L923.3 277.1L927.1 301.7L931.4 323.5L936.1 342.5L941.2 359L946.8 373.5L952.7 386L959.1 396.9L965.7 406.4L972.7 414.6L980 421.7L987.6 427.7L995.4 432.9L1003.4 437.2L1011.6 440.8L1019.9 443.6L1028.4 445.8L1037 447.4L1045.6 448.3L1054.3 448.6L1063 448.3L1071.6 447.4L1080.2 445.8L1088.6 443.6L1097 440.8L1105.2 437.2L1113.2 432.9L1121 427.7L1128.6 421.7L1135.9 414.6L1142.8 406.4L1149.5 396.9L1155.8 386L1161.8 373.5L1167.3 359L1172.5 342.5L1177.2 323.5L1181.4 301.7L1185.2 277.1L1188.5 249.5L1191.4 219.2L1193.7 187.3L1195.5 155.9L1196.8 128.4L1197.6 109.2L1197.9 102.2Z" fill="#00ff51" stroke="none"/>
<path d="M919.2 102.2L919.5 105.5L920.2 114.9L921.5 129.5L923.2 147.7L925.4 168.1L928 189.5L931.1 210.8L934.7 231.3L938.7 250.7L943.2 268.6L948 285.1L953.2 300L958.8 313.4L964.7 325.4L971 336.1L977.6 345.6L984.4 353.8L991.5 361L998.9 367.2L1006.4 372.5L1014.1 376.8L1022 380.3L1029.9 383L1038 384.9L1046.1 386.1L1054.3 386.4L1062.4 386.1L1070.6 384.9L1078.6 383L1086.6 380.3L1094.5 376.8L1102.2 372.5L1109.7 367.2L1117 361L1124.1 353.8L1131 345.6L1137.6 336.1L1143.8 325.4L1149.8 313.4L1155.4 300L1160.6 285.1L1165.4 268.6L1169.8 250.7L1173.9 231.3L1177.4 210.8L1180.5 189.5L1183.2 168.1L1185.4 147.7L1187.1 129.5L1188.3 114.9L1189.1 105.5L1189.3 102.2Z" fill="#00ff86" stroke="none"/>
<path d="M927.9 102.2L928.1 104.2L928.8 110.1L929.9 119.5L931.5 131.6L933.6 145.8L936.1 161.3L939 177.4L942.4 193.7L946.1 209.7L950.3 225.1L954.8 239.6L959.7 253.2L964.9 265.8L970.5 277.3L976.3 287.7L982.5 297.1L988.9 305.4L995.5 312.8L1002.4 319.1L1009.5 324.6L1016.7 329.1L1024 332.8L1031.5 335.7L1039 337.7L1046.7 338.9L1054.3 339.3L1061.9 338.9L1069.5 337.7L1077.1 335.7L1084.5 332.8L1091.9 329.1L1099.1 324.6L1106.2 319.1L1113 312.8L1119.7 305.4L1126.1 297.1L1132.2 287.7L1138.1 277.3L1143.7 265.8L1148.9 253.2L1153.8 239.6L1158.3 225.1L1162.5 209.7L1166.2 193.7L1169.6 177.4L1172.5 161.3L1175 145.8L1177 131.6L1178.6 119.5L1179.8 110.1L1180.5 104.2L1180.7 102.2Z" fill="#00ffbc" stroke="none"/>
<path d="M936.6 102.2L936.8 103.6L937.5 107.6L938.6 114.1L940 122.8L942 133.1L944.3 144.6L947 157L950.1 169.9L953.6 182.8L957.5 195.6L961.7 207.9L966.2 219.7L971.1 230.9L976.3 241.2L981.7 250.8L987.4 259.5L993.4 267.3L999.6 274.3L1006 280.5L1012.6 285.8L1019.3 290.2L1026.1 293.8L1033.1 296.6L1040.1 298.6L1047.2 299.8L1054.3 300.2L1061.4 299.8L1068.5 298.6L1075.5 296.6L1082.4 293.8L1089.3 290.2L1096 285.8L1102.6 280.5L1109 274.3L1115.2 267.3L1121.1 259.5L1126.8 250.8L1132.3 241.2L1137.5 230.9L1142.4 219.7L1146.9 207.9L1151.1 195.6L1155 182.8L1158.5 169.9L1161.6 157L1164.3 144.6L1166.6 133.1L1168.5 122.8L1170 114.1L1171.1 107.6L1171.7 103.6L1171.9 102.2Z" fill="#00fff2" stroke="none"/>
<path d="M945.5 102.2L945.7 103.2L946.3 106.1L947.3 110.8L948.7 117.1L950.5 124.8L952.6 133.6L955.1 143.1L958 153.2L961.2 163.6L964.8 174L968.7 184.2L972.9 194.2L977.4 203.7L982.2 212.7L987.2 221.2L992.5 228.9L998 236L1003.7 242.4L1009.7 248L1015.7 252.9L1021.9 257L1028.3 260.4L1034.7 263.1L1041.2 264.9L1047.7 266.1L1054.3 266.4L1060.8 266.1L1067.4 264.9L1073.9 263.1L1080.3 260.4L1086.6 257L1092.8 252.9L1098.9 248L1104.8 242.4L1110.5 236L1116.1 228.9L1121.3 221.2L1126.4 212.7L1131.2 203.7L1135.7 194.2L1139.9 184.2L1143.8 174L1147.3 163.6L1150.6 153.2L1153.4 143.1L1156 133.6L1158.1 124.8L1159.9 117.1L1161.2 110.8L1162.2 106.1L1162.8 103.2L1163 102.2Z" fill="#00d7ff" stroke="none"/>
<path d="M954.7 102.2L954.9 102.9L955.4 105L956.3 108.5L957.6 113.2L959.2 119L961.2 125.6L963.5 133L966.1 140.8L969.1 149L972.3 157.3L975.9 165.7L979.8 173.9L983.9 181.8L988.3 189.5L992.9 196.6L997.7 203.4L1002.8 209.5L1008 215.1L1013.4 220.1L1019 224.4L1024.7 228.1L1030.5 231.2L1036.3 233.5L1042.3 235.2L1048.3 236.3L1054.3 236.6L1060.3 236.3L1066.3 235.2L1072.2 233.5L1078.1 231.2L1083.9 228.1L1089.6 224.4L1095.1 220.1L1100.6 215.1L1105.8 209.5L1110.8 203.4L1115.7 196.6L1120.3 189.5L1124.7 181.8L1128.8 173.9L1132.7 165.7L1136.2 157.3L1139.5 149L1142.4 140.8L1145.1 133L1147.4 125.6L1149.3 119L1151 113.2L1152.2 108.5L1153.1 105L1153.7 102.9L1153.9 102.2Z" fill="#00a1ff" stroke="none"/>
<path d="M964.3 102.2L964.4 102.7L964.9 104.3L965.7 106.8L966.9 110.3L968.3 114.6L970.1 119.6L972.2 125.2L974.6 131.2L977.2 137.5L980.2 144.1L983.4 150.7L986.9 157.3L990.6 163.7L994.6 169.9L998.8 175.9L1003.1 181.5L1007.7 186.6L1012.4 191.4L1017.3 195.6L1022.4 199.3L1027.5 202.5L1032.7 205.1L1038.1 207.2L1043.4 208.7L1048.8 209.6L1054.3 209.9L1059.7 209.6L1065.1 208.7L1070.5 207.2L1075.8 205.1L1081.1 202.5L1086.2 199.3L1091.2 195.6L1096.1 191.4L1100.9 186.6L1105.4 181.5L1109.8 175.9L1114 169.9L1117.9 163.7L1121.7 157.3L1125.2 150.7L1128.4 144.1L1131.3 137.5L1134 131.2L1136.4 125.2L1138.5 119.6L1140.2 114.6L1141.7 110.3L1142.8 106.8L1143.7 104.3L1144.2 102.7L1144.3 102.2Z" fill="#006bff" stroke="none"/>
<path d="M974.3 102.2L974.5 102.6L974.9 103.7L975.6 105.5L976.6 108L977.9 111.2L979.5 114.8L981.4 119L983.5 123.5L985.9 128.2L988.5 133.2L991.3 138.3L994.4 143.4L997.7 148.4L1001.3 153.3L1005 158L1008.9 162.5L1012.9 166.6L1017.1 170.5L1021.5 173.9L1025.9 177L1030.5 179.6L1035.1 181.7L1039.9 183.4L1044.6 184.7L1049.5 185.4L1054.3 185.7L1059.1 185.4L1063.9 184.7L1068.7 183.4L1073.4 181.7L1078.1 179.6L1082.6 177L1087.1 173.9L1091.4 170.5L1095.7 166.6L1099.7 162.5L1103.6 158L1107.3 153.3L1110.8 148.4L1114.1 143.4L1117.2 138.3L1120.1 133.2L1122.7 128.2L1125.1 123.5L1127.2 119L1129.1 114.8L1130.6 111.2L1131.9 108L1132.9 105.5L1133.7 103.7L1134.1 102.6L1134.2 102.2Z" fill="#0036ff" stroke="none"/>
<path d="M985.2 102.2L985.3 102.4L985.7 103.2L986.3 104.5L987.2 106.2L988.3 108.4L989.7 111L991.3 113.9L993.1 117.1L995.2 120.5L997.4 124.1L999.9 127.8L1002.6 131.5L1005.4 135.2L1008.5 138.9L1011.7 142.4L1015 145.7L1018.5 148.9L1022.2 151.8L1025.9 154.5L1029.8 156.8L1033.7 158.8L1037.7 160.5L1041.8 161.8L1046 162.8L1050.1 163.4L1054.3 163.6L1058.5 163.4L1062.6 162.8L1066.7 161.8L1070.8 160.5L1074.8 158.8L1078.8 156.8L1082.6 154.5L1086.4 151.8L1090 148.9L1093.5 145.7L1096.9 142.4L1100.1 138.9L1103.1 135.2L1106 131.5L1108.7 127.8L1111.1 124.1L1113.4 120.5L1115.5 117.1L1117.3 113.9L1118.9 111L1120.3 108.4L1121.4 106.2L1122.2 104.5L1122.9 103.2L1123.3 102.4L1123.4 102.2Z" fill="#0000ff" stroke="none"/>
<rect x="1206.4" y="145.8" width="304.2" height="453.7" fill="#1bff00" stroke="none"/>
<path d="M1214.9 102.2L1215.2 109.2L1216 128.4L1217.3 155.9L1219.1 187.3L1221.4 219.2L1224.3 249.5L1227.6 277.1L1231.4 301.7L1235.6 323.5L1240.3 342.5L1245.5 359L1251 373.5L1257 386L1263.3 396.9L1270 406.4L1276.9 414.6L1284.2 421.7L1291.8 427.7L1299.6 432.9L1307.6 437.2L1315.8 440.8L1324.2 443.6L1332.6 445.8L1341.2 447.4L1349.8 448.3L1358.5 448.6L1367.2 448.3L1375.8 447.4L1384.4 445.8L1392.9 443.6L1401.2 440.8L1409.4 437.2L1417.4 432.9L1425.2 427.7L1432.8 421.7L1440.1 414.6L1447.1 406.4L1453.7 396.9L1460.1 386L1466 373.5L1471.6 359L1476.7 342.5L1481.4 323.5L1485.7 301.7L1489.5 277.1L1492.8 249.5L1495.6 219.2L1497.9 187.3L1499.8 155.9L1501.1 128.4L1501.8 109.2L1502.1 102.2Z" fill="#51ff00" stroke="none"/>
<path d="M1223.5 102.2L1223.7 105.5L1224.5 114.9L1225.7 129.5L1227.4 147.7L1229.6 168.1L1232.3 189.5L1235.4 210.8L1238.9 231.3L1243 250.7L1247.4 268.6L1252.2 285.1L1257.4 300L1263 313.4L1269 325.4L1275.2 336.1L1281.8 345.6L1288.7 353.8L1295.8 361L1303.1 367.2L1310.6 372.5L1318.3 376.8L1326.2 380.3L1334.2 383L1342.2 384.9L1350.4 386.1L1358.5 386.4L1366.7 386.1L1374.8 384.9L1382.9 383L1390.8 380.3L1398.7 376.8L1406.4 372.5L1413.9 367.2L1421.3 361L1428.4 353.8L1435.2 345.6L1441.8 336.1L1448.1 325.4L1454 313.4L1459.6 300L1464.8 285.1L1469.6 268.6L1474.1 250.7L1478.1 231.3L1481.7 210.8L1484.8 189.5L1487.4 168.1L1489.6 147.7L1491.3 129.5L1492.6 114.9L1493.3 105.5L1493.6 102.2Z" fill="#86ff00" stroke="none"/>
<path d="M1232.1 102.2L1232.3 104.2L1233 110.1L1234.2 119.5L1235.8 131.6L1237.8 145.8L1240.3 161.3L1243.2 177.4L1246.6 193.7L1250.3 209.7L1254.5 225.1L1259 239.6L1263.9 253.2L1269.1 265.8L1274.7 277.3L1280.6 287.7L1286.7 297.1L1293.1 305.4L1299.8 312.8L1306.6 319.1L1313.7 324.6L1320.9 329.1L1328.3 332.8L1335.7 335.7L1343.3 337.7L1350.9 338.9L1358.5 339.3L1366.1 338.9L1373.8 337.7L1381.3 335.7L1388.8 332.8L1396.1 329.1L1403.3 324.6L1410.4 319.1L1417.3 312.8L1423.9 305.4L1430.3 297.1L1436.5 287.7L1442.3 277.3L1447.9 265.8L1453.1 253.2L1458 239.6L1462.5 225.1L1466.7 209.7L1470.4 193.7L1473.8 177.4L1476.7 161.3L1479.2 145.8L1481.3 131.6L1482.9 119.5L1484 110.1L1484.7 104.2L1484.9 102.2Z" fill="#bcff00" stroke="none"/>
<path d="M1240.9 102.2L1241.1 103.6L1241.7 107.6L1242.8 114.1L1244.3 122.8L1246.2 133.1L1248.5 144.6L1251.2 157L1254.3 169.9L1257.8 182.8L1261.7 195.6L1265.9 207.9L1270.4 219.7L1275.3 230.9L1280.5 241.2L1286 250.8L1291.7 259.5L1297.6 267.3L1303.8 274.3L1310.2 280.5L1316.8 285.8L1323.5 290.2L1330.4 293.8L1337.3 296.6L1344.3 298.6L1351.4 299.8L1358.5 300.2L1365.6 299.8L1372.7 298.6L1379.7 296.6L1386.7 293.8L1393.5 290.2L1400.2 285.8L1406.8 280.5L1413.2 274.3L1419.4 267.3L1425.4 259.5L1431.1 250.8L1436.5 241.2L1441.7 230.9L1446.6 219.7L1451.1 207.9L1455.3 195.6L1459.2 182.8L1462.7 169.9L1465.8 157L1468.5 144.6L1470.8 133.1L1472.8 122.8L1474.2 114.1L1475.3 107.6L1476 103.6L1476.2 102.2Z" fill="#f2ff00" stroke="none"/>
<path d="M1249.8 102.2L1250 103.2L1250.6 106.1L1251.6 110.8L1252.9 117.1L1254.7 124.8L1256.8 133.6L1259.4 143.1L1262.2 153.2L1265.5 163.6L1269 174L1272.9 184.2L1277.1 194.2L1281.6 203.7L1286.4 212.7L1291.5 221.2L1296.7 228.9L1302.3 236L1308 242.4L1313.9 248L1320 252.9L1326.2 257L1332.5 260.4L1338.9 263.1L1345.4 264.9L1352 266.1L1358.5 266.4L1365.1 266.1L1371.6 264.9L1378.1 263.1L1384.5 260.4L1390.9 257L1397.1 252.9L1403.1 248L1409.1 242.4L1414.8 236L1420.3 228.9L1425.6 221.2L1430.6 212.7L1435.4 203.7L1439.9 194.2L1444.1 184.2L1448 174L1451.6 163.6L1454.8 153.2L1457.7 143.1L1460.2 133.6L1462.3 124.8L1464.1 117.1L1465.5 110.8L1466.5 106.1L1467.1 103.2L1467.3 102.2Z" fill="#ffd700" stroke="none"/>
<path d="M1258.9 102.2L1259.1 102.9L1259.7 105L1260.6 108.5L1261.8 113.2L1263.5 119L1265.4 125.6L1267.7 133L1270.4 140.8L1273.3 149L1276.6 157.3L1280.1 165.7L1284 173.9L1288.1 181.8L1292.5 189.5L1297.1 196.6L1302 203.4L1307 209.5L1312.2 215.1L1317.7 220.1L1323.2 224.4L1328.9 228.1L1334.7 231.2L1340.6 233.5L1346.5 235.2L1352.5 236.3L1358.5 236.6L1364.5 236.3L1370.5 235.2L1376.5 233.5L1382.3 231.2L1388.1 228.1L1393.8 224.4L1399.4 220.1L1404.8 215.1L1410 209.5L1415.1 203.4L1419.9 196.6L1424.5 189.5L1428.9 181.8L1433 173.9L1436.9 165.7L1440.5 157.3L1443.7 149L1446.7 140.8L1449.3 133L1451.6 125.6L1453.6 119L1455.2 113.2L1456.5 108.5L1457.4 105L1457.9 102.9L1458.1 102.2Z" fill="#ffa100" stroke="none"/>
<path d="M1268.5 102.2L1268.6 102.7L1269.1 104.3L1270 106.8L1271.1 110.3L1272.6 114.6L1274.3 119.6L1276.4 125.2L1278.8 131.2L1281.5 137.5L1284.4 144.1L1287.6 150.7L1291.1 157.3L1294.9 163.7L1298.8 169.9L1303 175.9L1307.4 181.5L1311.9 186.6L1316.7 191.4L1321.6 195.6L1326.6 199.3L1331.7 202.5L1337 205.1L1342.3 207.2L1347.7 208.7L1353.1 209.6L1358.5 209.9L1364 209.6L1369.4 208.7L1374.7 207.2L1380.1 205.1L1385.3 202.5L1390.4 199.3L1395.5 195.6L1400.4 191.4L1405.1 186.6L1409.7 181.5L1414 175.9L1418.2 169.9L1422.2 163.7L1425.9 157.3L1429.4 150.7L1432.6 144.1L1435.6 137.5L1438.2 131.2L1440.6 125.2L1442.7 119.6L1444.5 114.6L1445.9 110.3L1447.1 106.8L1447.9 104.3L1448.4 102.7L1448.5 102.2Z" fill="#ff6b00" stroke="none"/>
<path d="M1278.6 102.2L1278.7 102.6L1279.1 103.7L1279.9 105.5L1280.9 108L1282.2 111.2L1283.7 114.8L1285.6 119L1287.7 123.5L1290.1 128.2L1292.7 133.2L1295.6 138.3L1298.7 143.4L1302 148.4L1305.5 153.3L1309.2 158L1313.1 162.5L1317.1 166.6L1321.4 170.5L1325.7 173.9L1330.2 177L1334.7 179.6L1339.4 181.7L1344.1 183.4L1348.9 184.7L1353.7 185.4L1358.5 185.7L1363.3 185.4L1368.2 184.7L1372.9 183.4L1377.7 181.7L1382.3 179.6L1386.9 177L1391.3 173.9L1395.7 170.5L1399.9 166.6L1403.9 162.5L1407.8 158L1411.5 153.3L1415.1 148.4L1418.4 143.4L1421.5 138.3L1424.3 133.2L1426.9 128.2L1429.3 123.5L1431.4 119L1433.3 114.8L1434.9 111.2L1436.2 108L1437.2 105.5L1437.9 103.7L1438.3 102.6L1438.5 102.2Z" fill="#ff3600" stroke="none"/>
<path d="M1289.4 102.2L1289.5 102.4L1289.9 103.2L1290.6 104.5L1291.4 106.2L1292.5 108.4L1293.9 111L1295.5 113.9L1297.3 117.1L1299.4 120.5L1301.7 124.1L1304.1 127.8L1306.8 131.5L1309.7 135.2L1312.7 138.9L1315.9 142.4L1319.3 145.7L1322.8 148.9L1326.4 151.8L1330.2 154.5L1334 156.8L1338 158.8L1342 160.5L1346.1 161.8L1350.2 162.8L1354.3 163.4L1358.5 163.6L1362.7 163.4L1366.8 162.8L1371 161.8L1375.1 160.5L1379.1 158.8L1383 156.8L1386.9 154.5L1390.6 151.8L1394.3 148.9L1397.8 145.7L1401.1 142.4L1404.3 138.9L1407.4 135.2L1410.2 131.5L1412.9 127.8L1415.4 124.1L1417.6 120.5L1419.7 117.1L1421.5 113.9L1423.1 111L1424.5 108.4L1425.6 106.2L1426.5 104.5L1427.1 103.2L1427.5 102.4L1427.6 102.2Z" fill="#ff0000" stroke="none"/>
<path d="M1206.4 145.8V599.5" fill="none"/>
<path d="M915 142H928V149H915ZM1178 142H1192V149H1178ZM918 149H932V162H918ZM1175 149H1189V162H1175ZM922 162H932V177H922ZM1175 162H1185V177H1175ZM925 177H932V184H925ZM1175 177H1182V184H1175ZM925 184H935V187H925ZM1172 184H1182V187H1172ZM928 187H935V222H928ZM1172 187H1178V222H1172ZM928 222H938V225H928ZM1168 222H1178V225H1168ZM932 225H938V261H932ZM1168 225H1175V261H1168ZM932 261H942V264H932ZM1165 261H1175V264H1165ZM935 264H942V307H935ZM1165 264H1172V307H1165ZM935 307H945V309H935ZM1162 307H1172V309H1162ZM938 309H945V345H938ZM1162 309H1168V345H1162ZM942 359H949V389H942ZM1158 359H1165V389H1158ZM945 428H952V445H945ZM1155 428H1162V445H1155ZM949 568H955V575H949ZM1151 568H1158V575H1151ZM979 163H986V169H979ZM1121 163H1128V169H1121ZM1219 142H1233V149H1219ZM1483 142H1496V149H1483ZM1222 149H1236V162H1222ZM1479 149H1493V162H1479ZM1226 162H1236V177H1226ZM1479 162H1489V177H1479ZM1229 177H1236V184H1229ZM1479 177H1486V184H1479ZM1229 184H1239V187H1229ZM1476 184H1486V187H1476ZM1233 187H1239V222H1233ZM1476 187H1483V222H1476ZM1233 222H1243V225H1233ZM1473 222H1483V225H1473ZM1236 225H1243V261H1236ZM1473 225H1479V261H1473ZM1236 261H1246V264H1236ZM1469 261H1479V264H1469ZM1239 264H1246V307H1239ZM1469 264H1476V307H1469ZM1239 307H1249V309H1239ZM1466 307H1476V309H1466ZM1243 309H1249V345H1243ZM1466 309H1473V345H1466ZM1246 359H1253V389H1246ZM1462 359H1469V389H1462ZM1249 428H1256V445H1249ZM1459 428H1466V445H1459ZM1253 568H1260V575H1253ZM1456 568H1462V575H1456ZM1283 163H1290V169H1283ZM1425 163H1432V169H1425Z" fill="#fff" stroke="none"/>
<path d="M910.7 102.2L911 109.2L911.7 128.4L913 155.9L914.9 187.3L917.2 219.2L920 249.5L923.3 277.1L927.1 301.7L931.4 323.5L936.1 342.5L941.2 359L942.3 361.8M948.5 377L952.7 386L959.1 396.9L965.7 406.4L972.7 414.6L980 421.7L987.6 427.7L995.4 432.9L1003.4 437.2L1011.6 440.8L1019.9 443.6L1028.4 445.8L1037 447.4L1045.6 448.3L1054.3 448.6L1063 448.3L1071.6 447.4L1080.2 445.8L1088.6 443.6L1097 440.8L1105.2 437.2L1113.2 432.9L1121 427.7L1128.6 421.7L1135.9 414.6L1142.8 406.4L1149.5 396.9L1155.8 386L1158.4 380.6M1164.6 366L1167.3 359L1172.5 342.5L1177.2 323.5L1181.4 301.7L1185.2 277.1L1188.5 249.5L1191.4 219.2L1193.7 187.3L1195.5 155.9L1196.8 128.4L1197.6 109.2L1197.9 102.2M919.2 102.2L919.5 105.5L920.2 114.9L921.5 129.5L922.6 141.8M927.7 187L928 189.5L928.4 192.4M937.5 244.9L938.7 250.7L941.2 260.9M941.6 262.3L943.2 268.6L948 285.1L953.2 300L958.8 313.4L964.7 325.4L971 336.1L977.6 345.6L984.4 353.8L991.5 361L998.9 367.2L1006.4 372.5L1014.1 376.8L1022 380.3L1029.9 383L1038 384.9L1046.1 386.1L1054.3 386.4L1062.4 386.1L1070.6 384.9L1078.6 383L1086.6 380.3L1094.5 376.8L1102.2 372.5L1109.7 367.2L1117 361L1124.1 353.8L1131 345.6L1137.6 336.1L1143.8 325.4L1149.8 313.4L1155.4 300L1160.6 285.1L1165.4 268.6M1167.3 260.9L1168.4 256.5M1174.5 227.4L1174.9 225.4M1177.6 209.8L1180.5 189.5L1180.8 187M1181.5 181.7L1182.1 177.3M1186 141.8L1187.1 129.5L1188.3 114.9L1189.1 105.5L1189.3 102.2M927.9 102.2L928.1 104.2L928.8 110.1L929.9 119.5L931.5 131.6L933.6 145.8L936.1 161.3L939 177.4L942.4 193.7L946.1 209.7L950.3 225.1L954.8 239.6L959.7 253.2L964.9 265.8L970.5 277.3L976.3 287.7L982.5 297.1L988.9 305.4L995.5 312.8L1002.4 319.1L1009.5 324.6L1016.7 329.1L1024 332.8L1031.5 335.7L1039 337.7L1046.7 338.9L1054.3 339.3L1061.9 338.9L1069.5 337.7L1077.1 335.7L1084.5 332.8L1091.9 329.1L1099.1 324.6L1106.2 319.1L1113 312.8L1119.7 305.4L1126.1 297.1L1132.2 287.7L1138.1 277.3L1143.7 265.8L1148.9 253.2L1153.8 239.6L1158.3 225.1L1162.5 209.7L1166.2 193.7L1169.6 177.4L1172.5 161.3L1175 145.8L1177 131.6L1178.6 119.5L1179.8 110.1L1180.5 104.2L1180.7 102.2M936.6 102.2L936.8 103.6L937.5 107.6L938.6 114.1L940 122.8L942 133.1L944.3 144.6L947 157L950.1 169.9L953.6 182.8L957.5 195.6L961.7 207.9L966.2 219.7L971.1 230.9L976.3 241.2L981.7 250.8L987.4 259.5L993.4 267.3L999.6 274.3L1006 280.5L1012.6 285.8L1019.3 290.2L1026.1 293.8L1033.1 296.6L1040.1 298.6L1047.2 299.8L1054.3 300.2L1061.4 299.8L1068.5 298.6L1075.5 296.6L1082.4 293.8L1089.3 290.2L1096 285.8L1102.6 280.5L1109 274.3L1115.2 267.3L1121.1 259.5L1126.8 250.8L1132.3 241.2L1137.5 230.9L1142.4 219.7L1146.9 207.9L1151.1 195.6L1155 182.8L1158.5 169.9L1161.6 157L1164.3 144.6L1166.6 133.1L1168.5 122.8L1170 114.1L1171.1 107.6L1171.7 103.6L1171.9 102.2M945.5 102.2L945.7 103.2L946.3 106.1L947.3 110.8L948.7 117.1L950.5 124.8L952.6 133.6L955.1 143.1L958 153.2L961.2 163.6L964.8 174L968.7 184.2L972.9 194.2L977.4 203.7L982.2 212.7L987.2 221.2L992.5 228.9L998 236L1003.7 242.4L1009.7 248L1015.7 252.9L1021.9 257L1028.3 260.4L1034.7 263.1L1041.2 264.9L1047.7 266.1L1054.3 266.4L1060.8 266.1L1067.4 264.9L1073.9 263.1L1080.3 260.4L1086.6 257L1092.8 252.9L1098.9 248L1104.8 242.4L1110.5 236L1116.1 228.9L1121.3 221.2L1126.4 212.7L1131.2 203.7L1135.7 194.2L1139.9 184.2L1143.8 174L1147.3 163.6L1150.6 153.2L1153.4 143.1L1156 133.6L1158.1 124.8L1159.9 117.1L1161.2 110.8L1162.2 106.1L1162.8 103.2L1163 102.2M954.7 102.2L954.9 102.9L955.4 105L956.3 108.5L957.6 113.2L959.2 119L961.2 125.6L963.5 133L966.1 140.8L969.1 149L972.3 157.3L975.9 165.7L979.8 173.9L983.9 181.8L988.3 189.5L992.9 196.6L997.7 203.4L1002.8 209.5L1008 215.1L1013.4 220.1L1019 224.4L1024.7 228.1L1030.5 231.2L1036.3 233.5L1042.3 235.2L1048.3 236.3L1054.3 236.6L1060.3 236.3L1066.3 235.2L1072.2 233.5L1078.1 231.2L1083.9 228.1L1089.6 224.4L1095.1 220.1L1100.6 215.1L1105.8 209.5L1110.8 203.4L1115.7 196.6L1120.3 189.5L1124.7 181.8L1128.8 173.9L1132.7 165.7L1136.2 157.3L1139.5 149L1142.4 140.8L1145.1 133L1147.4 125.6L1149.3 119L1151 113.2L1152.2 108.5L1153.1 105L1153.7 102.9L1153.9 102.2M964.3 102.2L964.4 102.7L964.9 104.3L965.7 106.8L966.9 110.3L968.3 114.6L970.1 119.6L972.2 125.2L974.6 131.2L977.2 137.5L980.2 144.1L983.4 150.7L986.9 157.3L990.6 163.7L994.6 169.9L998.8 175.9L1003.1 181.5L1007.7 186.6L1012.4 191.4L1017.3 195.6L1022.4 199.3L1027.5 202.5L1032.7 205.1L1038.1 207.2L1043.4 208.7L1048.8 209.6L1054.3 209.9L1059.7 209.6L1065.1 208.7L1070.5 207.2L1075.8 205.1L1081.1 202.5L1086.2 199.3L1091.2 195.6L1096.1 191.4L1100.9 186.6L1105.4 181.5L1109.8 175.9L1114 169.9L1117.9 163.7L1121.7 157.3L1125.2 150.7L1128.4 144.1L1131.3 137.5L1134 131.2L1136.4 125.2L1138.5 119.6L1140.2 114.6L1141.7 110.3L1142.8 106.8L1143.7 104.3L1144.2 102.7L1144.3 102.2M974.3 102.2L974.5 102.6L974.9 103.7L975.6 105.5L976.6 108L977.9 111.2L979.5 114.8L981.4 119L983.5 123.5L985.9 128.2L988.5 133.2L991.3 138.3L994.4 143.4L997.7 148.4L1001.3 153.3L1005 158L1008.9 162.5L1012.9 166.6L1017.1 170.5L1021.5 173.9L1025.9 177L1030.5 179.6L1035.1 181.7L1039.9 183.4L1044.6 184.7L1049.5 185.4L1054.3 185.7L1059.1 185.4L1063.9 184.7L1068.7 183.4L1073.4 181.7L1078.1 179.6L1082.6 177L1087.1 173.9L1091.4 170.5L1095.7 166.6L1099.7 162.5L1103.6 158L1107.3 153.3L1110.8 148.4L1114.1 143.4L1117.2 138.3L1120.1 133.2L1122.7 128.2L1125.1 123.5L1127.2 119L1129.1 114.8L1130.6 111.2L1131.9 108L1132.9 105.5L1133.7 103.7L1134.1 102.6L1134.2 102.2M985.2 102.2L985.3 102.4L985.7 103.2L986.3 104.5L987.2 106.2L988.3 108.4L989.7 111L991.3 113.9L993.1 117.1L995.2 120.5L997.4 124.1L999.9 127.8L1002.6 131.5L1005.4 135.2L1008.5 138.9L1011.7 142.4L1015 145.7L1018.5 148.9L1022.2 151.8L1025.9 154.5L1029.8 156.8L1033.7 158.8L1037.7 160.5L1041.8 161.8L1046 162.8L1050.1 163.4L1054.3 163.6L1058.5 163.4L1062.6 162.8L1066.7 161.8L1070.8 160.5L1074.8 158.8L1078.8 156.8L1082.6 154.5L1086.4 151.8L1090 148.9L1093.5 145.7L1096.9 142.4L1100.1 138.9L1103.1 135.2L1106 131.5L1108.7 127.8L1111.1 124.1L1113.4 120.5L1115.5 117.1L1117.3 113.9L1118.9 111L1120.3 108.4L1121.4 106.2L1122.2 104.5L1122.9 103.2L1123.3 102.4L1123.4 102.2M1214.9 102.2L1215.2 109.2L1216 128.4L1217.3 155.9L1219.1 187.3L1221.4 219.2L1224.3 249.5L1227.6 277.1L1231.4 301.7L1235.6 323.5L1240.3 342.5L1245.5 359L1246.4 361.4M1252.5 376.6L1257 386L1263.3 396.9L1270 406.4L1276.9 414.6L1284.2 421.7L1291.8 427.7L1299.6 432.9L1307.6 437.2L1315.8 440.8L1324.2 443.6L1332.6 445.8L1341.2 447.4L1349.8 448.3L1358.5 448.6L1367.2 448.3L1375.8 447.4L1384.4 445.8L1392.9 443.6L1401.2 440.8L1409.4 437.2L1417.4 432.9L1425.2 427.7L1432.8 421.7L1440.1 414.6L1447.1 406.4L1453.7 396.9L1460.1 386L1462.4 381.1M1468.5 366.9L1471.6 359L1476.7 342.5L1481.4 323.5L1485.7 301.7L1489.5 277.1L1492.8 249.5L1495.6 219.2L1497.9 187.3L1499.8 155.9L1501.1 128.4L1501.8 109.2L1502.1 102.2M1223.5 102.2L1223.7 105.5L1224.5 114.9L1225.7 129.5L1226.8 141.8M1232 187L1232.3 189.5L1233.5 197.7M1242.6 248.7L1243 250.7L1247.4 268.6L1252.2 285.1L1257.4 300L1263 313.4L1269 325.4L1275.2 336.1L1281.8 345.6L1288.7 353.8L1295.8 361L1303.1 367.2L1310.6 372.5L1318.3 376.8L1326.2 380.3L1334.2 383L1342.2 384.9L1350.4 386.1L1358.5 386.4L1366.7 386.1L1374.8 384.9L1382.9 383L1390.8 380.3L1398.7 376.8L1406.4 372.5L1413.9 367.2L1421.3 361L1428.4 353.8L1435.2 345.6L1441.8 336.1L1448.1 325.4L1454 313.4L1459.6 300L1464.8 285.1L1469.4 269.6M1471.6 260.9L1473.5 253.1M1478.5 228.9L1479.1 225.4M1482.5 204.9L1484.8 189.5L1485.1 187M1485.5 183.6L1486.3 177.3M1490.2 141.8L1491.3 129.5L1492.6 114.9L1493.3 105.5L1493.6 102.2M1232.1 102.2L1232.3 104.2L1233 110.1L1234.2 119.5L1235.8 131.6L1237.8 145.8L1240.3 161.3L1243.2 177.4L1246.6 193.7L1250.3 209.7L1254.5 225.1L1259 239.6L1263.9 253.2L1269.1 265.8L1274.7 277.3L1280.6 287.7L1286.7 297.1L1293.1 305.4L1299.8 312.8L1306.6 319.1L1313.7 324.6L1320.9 329.1L1328.3 332.8L1335.7 335.7L1343.3 337.7L1350.9 338.9L1358.5 339.3L1366.1 338.9L1373.8 337.7L1381.3 335.7L1388.8 332.8L1396.1 329.1L1403.3 324.6L1410.4 319.1L1417.3 312.8L1423.9 305.4L1430.3 297.1L1436.5 287.7L1442.3 277.3L1447.9 265.8L1453.1 253.2L1458 239.6L1462.5 225.1L1466.7 209.7L1470.4 193.7L1473.8 177.4L1476.7 161.3L1479.2 145.8L1481.3 131.6L1482.9 119.5L1484 110.1L1484.7 104.2L1484.9 102.2M1240.9 102.2L1241.1 103.6L1241.7 107.6L1242.8 114.1L1244.3 122.8L1246.2 133.1L1248.5 144.6L1251.2 157L1254.3 169.9L1257.8 182.8L1261.7 195.6L1265.9 207.9L1270.4 219.7L1275.3 230.9L1280.5 241.2L1286 250.8L1291.7 259.5L1297.6 267.3L1303.8 274.3L1310.2 280.5L1316.8 285.8L1323.5 290.2L1330.4 293.8L1337.3 296.6L1344.3 298.6L1351.4 299.8L1358.5 300.2L1365.6 299.8L1372.7 298.6L1379.7 296.6L1386.7 293.8L1393.5 290.2L1400.2 285.8L1406.8 280.5L1413.2 274.3L1419.4 267.3L1425.4 259.5L1431.1 250.8L1436.5 241.2L1441.7 230.9L1446.6 219.7L1451.1 207.9L1455.3 195.6L1459.2 182.8L1462.7 169.9L1465.8 157L1468.5 144.6L1470.8 133.1L1472.8 122.8L1474.2 114.1L1475.3 107.6L1476 103.6L1476.2 102.2M1249.8 102.2L1250 103.2L1250.6 106.1L1251.6 110.8L1252.9 117.1L1254.7 124.8L1256.8 133.6L1259.4 143.1L1262.2 153.2L1265.5 163.6L1269 174L1272.9 184.2L1277.1 194.2L1281.6 203.7L1286.4 212.7L1291.5 221.2L1296.7 228.9L1302.3 236L1308 242.4L1313.9 248L1320 252.9L1326.2 257L1332.5 260.4L1338.9 263.1L1345.4 264.9L1352 266.1L1358.5 266.4L1365.1 266.1L1371.6 264.9L1378.1 263.1L1384.5 260.4L1390.9 257L1397.1 252.9L1403.1 248L1409.1 242.4L1414.8 236L1420.3 228.9L1425.6 221.2L1430.6 212.7L1435.4 203.7L1439.9 194.2L1444.1 184.2L1448 174L1451.6 163.6L1454.8 153.2L1457.7 143.1L1460.2 133.6L1462.3 124.8L1464.1 117.1L1465.5 110.8L1466.5 106.1L1467.1 103.2L1467.3 102.2M1258.9 102.2L1259.1 102.9L1259.7 105L1260.6 108.5L1261.8 113.2L1263.5 119L1265.4 125.6L1267.7 133L1270.4 140.8L1273.3 149L1276.6 157.3L1280.1 165.7L1284 173.9L1288.1 181.8L1292.5 189.5L1297.1 196.6L1302 203.4L1307 209.5L1312.2 215.1L1317.7 220.1L1323.2 224.4L1328.9 228.1L1334.7 231.2L1340.6 233.5L1346.5 235.2L1352.5 236.3L1358.5 236.6L1364.5 236.3L1370.5 235.2L1376.5 233.5L1382.3 231.2L1388.1 228.1L1393.8 224.4L1399.4 220.1L1404.8 215.1L1410 209.5L1415.1 203.4L1419.9 196.6L1424.5 189.5L1428.9 181.8L1433 173.9L1436.9 165.7L1440.5 157.3L1443.7 149L1446.7 140.8L1449.3 133L1451.6 125.6L1453.6 119L1455.2 113.2L1456.5 108.5L1457.4 105L1457.9 102.9L1458.1 102.2M1268.5 102.2L1268.6 102.7L1269.1 104.3L1270 106.8L1271.1 110.3L1272.6 114.6L1274.3 119.6L1276.4 125.2L1278.8 131.2L1281.5 137.5L1284.4 144.1L1287.6 150.7L1291.1 157.3L1294.9 163.7L1298.8 169.9L1303 175.9L1307.4 181.5L1311.9 186.6L1316.7 191.4L1321.6 195.6L1326.6 199.3L1331.7 202.5L1337 205.1L1342.3 207.2L1347.7 208.7L1353.1 209.6L1358.5 209.9L1364 209.6L1369.4 208.7L1374.7 207.2L1380.1 205.1L1385.3 202.5L1390.4 199.3L1395.5 195.6L1400.4 191.4L1405.1 186.6L1409.7 181.5L1414 175.9L1418.2 169.9L1422.2 163.7L1425.9 157.3L1429.4 150.7L1432.6 144.1L1435.6 137.5L1438.2 131.2L1440.6 125.2L1442.7 119.6L1444.5 114.6L1445.9 110.3L1447.1 106.8L1447.9 104.3L1448.4 102.7L1448.5 102.2M1278.6 102.2L1278.7 102.6L1279.1 103.7L1279.9 105.5L1280.9 108L1282.2 111.2L1283.7 114.8L1285.6 119L1287.7 123.5L1290.1 128.2L1292.7 133.2L1295.6 138.3L1298.7 143.4L1302 148.4L1305.5 153.3L1309.2 158L1313.1 162.5L1317.1 166.6L1321.4 170.5L1325.7 173.9L1330.2 177L1334.7 179.6L1339.4 181.7L1344.1 183.4L1348.9 184.7L1353.7 185.4L1358.5 185.7L1363.3 185.4L1368.2 184.7L1372.9 183.4L1377.7 181.7L1382.3 179.6L1386.9 177L1391.3 173.9L1395.7 170.5L1399.9 166.6L1403.9 162.5L1407.8 158L1411.5 153.3L1415.1 148.4L1418.4 143.4L1421.5 138.3L1424.3 133.2L1426.9 128.2L1429.3 123.5L1431.4 119L1433.3 114.8L1434.9 111.2L1436.2 108L1437.2 105.5L1437.9 103.7L1438.3 102.6L1438.5 102.2M1289.4 102.2L1289.5 102.4L1289.9 103.2L1290.6 104.5L1291.4 106.2L1292.5 108.4L1293.9 111L1295.5 113.9L1297.3 117.1L1299.4 120.5L1301.7 124.1L1304.1 127.8L1306.8 131.5L1309.7 135.2L1312.7 138.9L1315.9 142.4L1319.3 145.7L1322.8 148.9L1326.4 151.8L1330.2 154.5L1334 156.8L1338 158.8L1342 160.5L1346.1 161.8L1350.2 162.8L1354.3 163.4L1358.5 163.6L1362.7 163.4L1366.8 162.8L1371 161.8L1375.1 160.5L1379.1 158.8L1383 156.8L1386.9 154.5L1390.6 151.8L1394.3 148.9L1397.8 145.7L1401.1 142.4L1404.3 138.9L1407.4 135.2L1410.2 131.5L1412.9 127.8L1415.4 124.1L1417.6 120.5L1419.7 117.1L1421.5 113.9L1423.1 111L1424.5 108.4L1425.6 106.2L1426.5 104.5L1427.1 103.2L1427.5 102.4L1427.6 102.2" fill="none"/>
</g>
<clipPath id="c3"><rect x="199.6" y="837.6" width="1298.9" height="484.3"/></clipPath>
<g clip-path="url(#c3)" stroke="#000" stroke-width="1.3" stroke-linejoin="round">
<rect x="199.6" y="837.6" width="324.7" height="484.3" fill="#18ff00" stroke="none"/>
<path d="M208.4 791.1L208.7 799.6L209.6 823L211 855.8L212.9 892.2L215.4 928.3L218.4 961.8L222 991.7L226 1018.1L230.6 1041.1L235.6 1061L241.1 1078.2L247.1 1093.2L253.4 1106.1L260.2 1117.3L267.3 1127L274.8 1135.4L282.6 1142.6L290.6 1148.8L299 1154.1L307.5 1158.5L316.3 1162.1L325.3 1165L334.3 1167.2L343.5 1168.8L352.7 1169.7L362 1170L371.3 1169.7L380.5 1168.8L389.7 1167.2L398.8 1165L407.7 1162.1L416.5 1158.5L425 1154.1L433.4 1148.8L441.4 1142.6L449.2 1135.4L456.7 1127L463.8 1117.3L470.6 1106.1L476.9 1093.2L482.9 1078.2L488.4 1061L493.4 1041.1L498 1018.1L502 991.7L505.6 961.8L508.6 928.3L511.1 892.2L513.1 855.8L514.4 823L515.3 799.6L515.6 791.1Z" fill="#49ff00" stroke="none"/>
<path d="M217.3 791.1L217.6 795.1L218.4 806.7L219.7 824.4L221.5 846.1L223.9 870.1L226.7 894.8L230.1 918.9L233.9 941.9L238.2 963.2L242.9 982.7L248.1 1000.4L253.7 1016.4L259.7 1030.6L266.1 1043.3L272.8 1054.5L279.8 1064.4L287.1 1073L294.8 1080.5L302.6 1086.9L310.7 1092.3L319 1096.8L327.4 1100.4L335.9 1103.2L344.6 1105.2L353.3 1106.3L362 1106.7L370.7 1106.3L379.4 1105.2L388.1 1103.2L396.6 1100.4L405.1 1096.8L413.3 1092.3L421.4 1086.9L429.2 1080.5L436.9 1073L444.2 1064.4L451.2 1054.5L458 1043.3L464.3 1030.6L470.3 1016.4L475.9 1000.4L481.1 982.7L485.8 963.2L490.1 941.9L494 918.9L497.3 894.8L500.1 870.1L502.5 846.1L504.3 824.4L505.6 806.7L506.4 795.1L506.7 791.1Z" fill="#79ff00" stroke="none"/>
<path d="M226.3 791.1L226.6 793.5L227.3 800.8L228.5 812.2L230.3 826.9L232.5 843.8L235.1 862.1L238.3 880.9L241.9 899.6L245.9 917.7L250.3 935L255.2 951.1L260.4 966L266.1 979.7L272 992.1L278.3 1003.3L284.9 1013.3L291.8 1022.2L298.9 1030L306.3 1036.7L313.9 1042.5L321.6 1047.2L329.5 1051.1L337.5 1054.1L345.6 1056.2L353.8 1057.5L362 1057.9L370.2 1057.5L378.4 1056.2L386.5 1054.1L394.5 1051.1L402.4 1047.2L410.1 1042.5L417.7 1036.7L425.1 1030L432.2 1022.2L439.1 1013.3L445.7 1003.3L452 992.1L458 979.7L463.6 966L468.8 951.1L473.7 935L478.1 917.7L482.2 899.6L485.7 880.9L488.9 862.1L491.6 843.8L493.8 826.9L495.5 812.2L496.7 800.8L497.5 793.5L497.7 791.1Z" fill="#aaff00" stroke="none"/>
<path d="M235.5 791.1L235.8 792.8L236.4 797.7L237.6 805.7L239.2 816.2L241.3 828.6L243.7 842.4L246.7 857.1L250 872.1L253.8 887L257.9 901.6L262.4 915.6L267.3 928.9L272.6 941.3L278.1 952.7L284 963.2L290.2 972.7L296.6 981.2L303.2 988.8L310.1 995.4L317.2 1001.1L324.4 1005.9L331.7 1009.7L339.2 1012.7L346.8 1014.8L354.4 1016.1L362 1016.5L369.6 1016.1L377.2 1014.8L384.8 1012.7L392.3 1009.7L399.6 1005.9L406.9 1001.1L413.9 995.4L420.8 988.8L427.4 981.2L433.9 972.7L440 963.2L445.9 952.7L451.4 941.3L456.7 928.9L461.6 915.6L466.1 901.6L470.2 887L474 872.1L477.3 857.1L480.3 842.4L482.8 828.6L484.8 816.2L486.4 805.7L487.6 797.7L488.3 792.8L488.5 791.1Z" fill="#dbff00" stroke="none"/>
<path d="M245 791.1L245.3 792.3L245.9 795.8L247 801.6L248.4 809.3L250.3 818.6L252.6 829.1L255.3 840.5L258.4 852.4L261.9 864.5L265.7 876.6L269.9 888.4L274.5 899.8L279.3 910.6L284.4 920.7L289.9 930.1L295.6 938.8L301.5 946.6L307.7 953.7L314 959.8L320.5 965.2L327.2 969.7L334 973.4L340.9 976.2L347.9 978.3L354.9 979.5L362 979.9L369.1 979.5L376.1 978.3L383.1 976.2L390 973.4L396.8 969.7L403.5 965.2L410 959.8L416.4 953.7L422.5 946.6L428.4 938.8L434.1 930.1L439.6 920.7L444.7 910.6L449.5 899.8L454.1 888.4L458.3 876.6L462.1 864.5L465.6 852.4L468.7 840.5L471.4 829.1L473.7 818.6L475.6 809.3L477 801.6L478.1 795.8L478.7 792.3L479 791.1Z" fill="#fff300" stroke="none"/>
<path d="M255 791.1L255.2 791.9L255.8 794.5L256.8 798.8L258.1 804.4L259.8 811.4L262 819.4L264.4 828.1L267.3 837.4L270.4 847.1L273.9 856.8L277.8 866.5L281.9 876L286.3 885.1L291 893.8L296 902L301.2 909.6L306.6 916.5L312.3 922.8L318.1 928.3L324.1 933.1L330.2 937.2L336.4 940.6L342.7 943.2L349.1 945.1L355.5 946.2L362 946.6L368.5 946.2L374.9 945.1L381.3 943.2L387.6 940.6L393.8 937.2L399.9 933.1L405.9 928.3L411.7 922.8L417.4 916.5L422.8 909.6L428 902L433 893.8L437.7 885.1L442.1 876L446.2 866.5L450.1 856.8L453.6 847.1L456.8 837.4L459.6 828.1L462.1 819.4L464.2 811.4L465.9 804.4L467.3 798.8L468.2 794.5L468.8 791.9L469 791.1Z" fill="#ffc200" stroke="none"/>
<path d="M265.6 791.1L265.7 791.7L266.3 793.6L267.1 796.6L268.4 800.8L269.9 805.9L271.8 811.9L274.1 818.5L276.6 825.6L279.5 833.1L282.6 840.8L286.1 848.5L289.8 856.1L293.8 863.5L298.1 870.7L302.5 877.5L307.2 883.8L312.1 889.7L317.2 895.1L322.4 899.8L327.8 904L333.3 907.6L338.9 910.5L344.6 912.8L350.4 914.5L356.2 915.5L362 915.8L367.8 915.5L373.6 914.5L379.4 912.8L385.1 910.5L390.7 907.6L396.2 904L401.6 899.8L406.8 895.1L411.9 889.7L416.8 883.8L421.5 877.5L426 870.7L430.2 863.5L434.2 856.1L437.9 848.5L441.4 840.8L444.5 833.1L447.4 825.6L449.9 818.5L452.2 811.9L454.1 805.9L455.6 800.8L456.9 796.6L457.7 793.6L458.3 791.7L458.4 791.1Z" fill="#ff9200" stroke="none"/>
<path d="M277 791.1L277.2 791.5L277.6 792.8L278.4 795L279.5 798L280.8 801.6L282.5 805.9L284.5 810.8L286.7 816L289.3 821.6L292 827.3L295.1 833.2L298.4 839L301.9 844.8L305.6 850.4L309.6 855.8L313.7 860.8L318 865.6L322.5 869.9L327.1 873.8L331.9 877.2L336.7 880.2L341.7 882.6L346.7 884.5L351.8 885.9L356.9 886.7L362 887L367.1 886.7L372.3 885.9L377.3 884.5L382.3 882.6L387.3 880.2L392.1 877.2L396.9 873.8L401.5 869.9L406 865.6L410.3 860.8L414.4 855.8L418.4 850.4L422.1 844.8L425.6 839L428.9 833.2L432 827.3L434.8 821.6L437.3 816L439.5 810.8L441.5 805.9L443.2 801.6L444.5 798L445.6 795L446.4 792.8L446.9 791.5L447 791.1Z" fill="#ff6100" stroke="none"/>
<path d="M289.8 791.1L289.9 791.3L290.3 792.2L290.9 793.7L291.9 795.7L293 798.1L294.5 801L296.1 804.3L298 807.9L300.2 811.8L302.5 815.8L305.1 820L307.9 824.1L310.9 828.3L314.1 832.3L317.4 836.3L321 840L324.6 843.5L328.4 846.8L332.4 849.7L336.4 852.3L340.5 854.6L344.7 856.4L349 857.9L353.3 858.9L357.6 859.6L362 859.8L366.4 859.6L370.7 858.9L375 857.9L379.3 856.4L383.5 854.6L387.6 852.3L391.7 849.7L395.6 846.8L399.4 843.5L403 840L406.6 836.3L409.9 832.3L413.1 828.3L416.1 824.1L418.9 820L421.5 815.8L423.8 811.8L426 807.9L427.9 804.3L429.6 801L431 798.1L432.1 795.7L433.1 793.7L433.7 792.2L434.1 791.3L434.2 791.1Z" fill="#ff3100" stroke="none"/>
<rect x="524.4" y="837.6" width="324.7" height="484.3" fill="#00ff18" stroke="none"/>
<path d="M533.2 791.1L533.5 799.6L534.3 823L535.7 855.8L537.6 892.2L540.1 928.3L543.2 961.8L546.7 991.7L550.8 1018.1L555.3 1041.1L560.4 1061L565.9 1078.2L571.8 1093.2L578.1 1106.1L584.9 1117.3L592 1127L599.5 1135.4L607.3 1142.6L615.4 1148.8L623.7 1154.1L632.3 1158.5L641 1162.1L650 1165L659.1 1167.2L668.2 1168.8L677.5 1169.7L686.7 1170L696 1169.7L705.2 1168.8L714.4 1167.2L723.5 1165L732.4 1162.1L741.2 1158.5L749.8 1154.1L758.1 1148.8L766.2 1142.6L774 1135.4L781.4 1127L788.6 1117.3L795.3 1106.1L801.7 1093.2L807.6 1078.2L813.1 1061L818.2 1041.1L822.7 1018.1L826.8 991.7L830.3 961.8L833.3 928.3L835.8 892.2L837.8 855.8L839.2 823L840 799.6L840.3 791.1Z" fill="#00ff49" stroke="none"/>
<path d="M542 791.1L542.3 795.1L543.1 806.7L544.4 824.4L546.2 846.1L548.6 870.1L551.4 894.8L554.8 918.9L558.6 941.9L562.9 963.2L567.7 982.7L572.8 1000.4L578.4 1016.4L584.4 1030.6L590.8 1043.3L597.5 1054.5L604.5 1064.4L611.9 1073L619.5 1080.5L627.3 1086.9L635.4 1092.3L643.7 1096.8L652.1 1100.4L660.7 1103.2L669.3 1105.2L678 1106.3L686.7 1106.7L695.5 1106.3L704.2 1105.2L712.8 1103.2L721.4 1100.4L729.8 1096.8L738 1092.3L746.1 1086.9L754 1080.5L761.6 1073L768.9 1064.4L776 1054.5L782.7 1043.3L789 1030.6L795 1016.4L800.6 1000.4L805.8 982.7L810.6 963.2L814.9 941.9L818.7 918.9L822 894.8L824.9 870.1L827.2 846.1L829.1 824.4L830.4 806.7L831.2 795.1L831.4 791.1Z" fill="#00ff79" stroke="none"/>
<path d="M551 791.1L551.3 793.5L552 800.8L553.3 812.2L555 826.9L557.2 843.8L559.9 862.1L563 880.9L566.6 899.6L570.6 917.7L575.1 935L579.9 951.1L585.2 966L590.8 979.7L596.8 992.1L603 1003.3L609.7 1013.3L616.5 1022.2L623.7 1030L631 1036.7L638.6 1042.5L646.4 1047.2L654.3 1051.1L662.3 1054.1L670.4 1056.2L678.5 1057.5L686.7 1057.9L694.9 1057.5L703.1 1056.2L711.2 1054.1L719.2 1051.1L727.1 1047.2L734.9 1042.5L742.4 1036.7L749.8 1030L756.9 1022.2L763.8 1013.3L770.4 1003.3L776.7 992.1L782.7 979.7L788.3 966L793.6 951.1L798.4 935L802.9 917.7L806.9 899.6L810.5 880.9L813.6 862.1L816.3 843.8L818.5 826.9L820.2 812.2L821.4 800.8L822.2 793.5L822.4 791.1Z" fill="#00ffaa" stroke="none"/>
<path d="M560.3 791.1L560.5 792.8L561.2 797.7L562.3 805.7L563.9 816.2L566 828.6L568.5 842.4L571.4 857.1L574.7 872.1L578.5 887L582.6 901.6L587.2 915.6L592.1 928.9L597.3 941.3L602.9 952.7L608.7 963.2L614.9 972.7L621.3 981.2L628 988.8L634.8 995.4L641.9 1001.1L649.1 1005.9L656.5 1009.7L663.9 1012.7L671.5 1014.8L679.1 1016.1L686.7 1016.5L694.4 1016.1L702 1014.8L709.5 1012.7L717 1009.7L724.4 1005.9L731.6 1001.1L738.6 995.4L745.5 988.8L752.2 981.2L758.6 972.7L764.7 963.2L770.6 952.7L776.2 941.3L781.4 928.9L786.3 915.6L790.8 901.6L795 887L798.7 872.1L802.1 857.1L805 842.4L807.5 828.6L809.5 816.2L811.1 805.7L812.3 797.7L813 792.8L813.2 791.1Z" fill="#00ffdb" stroke="none"/>
<path d="M569.8 791.1L570 792.3L570.6 795.8L571.7 801.6L573.2 809.3L575.1 818.6L577.4 829.1L580.1 840.5L583.2 852.4L586.6 864.5L590.5 876.6L594.7 888.4L599.2 899.8L604 910.6L609.2 920.7L614.6 930.1L620.3 938.8L626.2 946.6L632.4 953.7L638.7 959.8L645.3 965.2L651.9 969.7L658.7 973.4L665.7 976.2L672.6 978.3L679.7 979.5L686.7 979.9L693.8 979.5L700.8 978.3L707.8 976.2L714.7 973.4L721.5 969.7L728.2 965.2L734.7 959.8L741.1 953.7L747.2 946.6L753.2 938.8L758.9 930.1L764.3 920.7L769.4 910.6L774.3 899.8L778.8 888.4L783 876.6L786.8 864.5L790.3 852.4L793.4 840.5L796.1 829.1L798.4 818.6L800.3 809.3L801.8 801.6L802.8 795.8L803.5 792.3L803.7 791.1Z" fill="#00f3ff" stroke="none"/>
<path d="M579.7 791.1L579.9 791.9L580.5 794.5L581.5 798.8L582.8 804.4L584.6 811.4L586.7 819.4L589.2 828.1L592 837.4L595.2 847.1L598.7 856.8L602.5 866.5L606.6 876L611.1 885.1L615.8 893.8L620.7 902L625.9 909.6L631.4 916.5L637 922.8L642.8 928.3L648.8 933.1L654.9 937.2L661.1 940.6L667.4 943.2L673.8 945.1L680.3 946.2L686.7 946.6L693.2 946.2L699.6 945.1L706 943.2L712.3 940.6L718.6 937.2L724.7 933.1L730.7 928.3L736.5 922.8L742.1 916.5L747.5 909.6L752.7 902L757.7 893.8L762.4 885.1L766.8 876L771 866.5L774.8 856.8L778.3 847.1L781.5 837.4L784.3 828.1L786.8 819.4L788.9 811.4L790.6 804.4L792 798.8L793 794.5L793.5 791.9L793.7 791.1Z" fill="#00c2ff" stroke="none"/>
<path d="M590.3 791.1L590.5 791.7L591 793.6L591.9 796.6L593.1 800.8L594.7 805.9L596.6 811.9L598.8 818.5L601.3 825.6L604.2 833.1L607.4 840.8L610.8 848.5L614.5 856.1L618.5 863.5L622.8 870.7L627.3 877.5L631.9 883.8L636.8 889.7L641.9 895.1L647.2 899.8L652.5 904L658 907.6L663.7 910.5L669.4 912.8L675.1 914.5L680.9 915.5L686.7 915.8L692.6 915.5L698.4 914.5L704.1 912.8L709.8 910.5L715.4 907.6L720.9 904L726.3 899.8L731.6 895.1L736.6 889.7L741.5 883.8L746.2 877.5L750.7 870.7L754.9 863.5L758.9 856.1L762.7 848.5L766.1 840.8L769.3 833.1L772.1 825.6L774.7 818.5L776.9 811.9L778.8 805.9L780.4 800.8L781.6 796.6L782.5 793.6L783 791.7L783.2 791.1Z" fill="#0092ff" stroke="none"/>
<path d="M601.7 791.1L601.9 791.5L602.3 792.8L603.1 795L604.2 798L605.6 801.6L607.3 805.9L609.2 810.8L611.5 816L614 821.6L616.8 827.3L619.8 833.2L623.1 839L626.6 844.8L630.4 850.4L634.3 855.8L638.4 860.8L642.8 865.6L647.2 869.9L651.8 873.8L656.6 877.2L661.4 880.2L666.4 882.6L671.4 884.5L676.5 885.9L681.6 886.7L686.7 887L691.9 886.7L697 885.9L702.1 884.5L707.1 882.6L712 880.2L716.9 877.2L721.6 873.8L726.2 869.9L730.7 865.6L735 860.8L739.2 855.8L743.1 850.4L746.8 844.8L750.4 839L753.7 833.2L756.7 827.3L759.5 821.6L762 816L764.3 810.8L766.2 805.9L767.9 801.6L769.3 798L770.3 795L771.1 792.8L771.6 791.5L771.7 791.1Z" fill="#0061ff" stroke="none"/>
<path d="M614.5 791.1L614.6 791.3L615 792.2L615.7 793.7L616.6 795.7L617.8 798.1L619.2 801L620.9 804.3L622.8 807.9L624.9 811.8L627.3 815.8L629.9 820L632.7 824.1L635.6 828.3L638.8 832.3L642.2 836.3L645.7 840L649.4 843.5L653.2 846.8L657.1 849.7L661.1 852.3L665.2 854.6L669.4 856.4L673.7 857.9L678 858.9L682.4 859.6L686.7 859.8L691.1 859.6L695.4 858.9L699.8 857.9L704 856.4L708.2 854.6L712.4 852.3L716.4 849.7L720.3 846.8L724.1 843.5L727.8 840L731.3 836.3L734.6 832.3L737.8 828.3L740.8 824.1L743.6 820L746.2 815.8L748.6 811.8L750.7 807.9L752.6 804.3L754.3 801L755.7 798.1L756.9 795.7L757.8 793.7L758.5 792.2L758.8 791.3L759 791.1Z" fill="#0031ff" stroke="none"/>
<rect x="849.1" y="837.6" width="324.7" height="484.3" fill="#18ff00" stroke="none"/>
<path d="M857.9 791.1L858.2 799.6L859 823L860.4 855.8L862.4 892.2L864.9 928.3L867.9 961.8L871.4 991.7L875.5 1018.1L880 1041.1L885.1 1061L890.6 1078.2L896.5 1093.2L902.9 1106.1L909.6 1117.3L916.8 1127L924.2 1135.4L932 1142.6L940.1 1148.8L948.4 1154.1L957 1158.5L965.8 1162.1L974.7 1165L983.8 1167.2L993 1168.8L1002.2 1169.7L1011.5 1170L1020.7 1169.7L1030 1168.8L1039.1 1167.2L1048.2 1165L1057.2 1162.1L1065.9 1158.5L1074.5 1154.1L1082.8 1148.8L1090.9 1142.6L1098.7 1135.4L1106.2 1127L1113.3 1117.3L1120.1 1106.1L1126.4 1093.2L1132.3 1078.2L1137.8 1061L1142.9 1041.1L1147.4 1018.1L1151.5 991.7L1155 961.8L1158.1 928.3L1160.6 892.2L1162.5 855.8L1163.9 823L1164.7 799.6L1165 791.1Z" fill="#49ff00" stroke="none"/>
<path d="M866.8 791.1L867 795.1L867.8 806.7L869.1 824.4L871 846.1L873.3 870.1L876.2 894.8L879.5 918.9L883.3 941.9L887.6 963.2L892.4 982.7L897.6 1000.4L903.2 1016.4L909.2 1030.6L915.5 1043.3L922.2 1054.5L929.3 1064.4L936.6 1073L944.2 1080.5L952.1 1086.9L960.2 1092.3L968.4 1096.8L976.8 1100.4L985.4 1103.2L994 1105.2L1002.7 1106.3L1011.5 1106.7L1020.2 1106.3L1028.9 1105.2L1037.5 1103.2L1046.1 1100.4L1054.5 1096.8L1062.8 1092.3L1070.9 1086.9L1078.7 1080.5L1086.3 1073L1093.7 1064.4L1100.7 1054.5L1107.4 1043.3L1113.8 1030.6L1119.8 1016.4L1125.4 1000.4L1130.5 982.7L1135.3 963.2L1139.6 941.9L1143.4 918.9L1146.8 894.8L1149.6 870.1L1152 846.1L1153.8 824.4L1155.1 806.7L1155.9 795.1L1156.2 791.1Z" fill="#79ff00" stroke="none"/>
<path d="M875.8 791.1L876 793.5L876.8 800.8L878 812.2L879.7 826.9L881.9 843.8L884.6 862.1L887.7 880.9L891.3 899.6L895.3 917.7L899.8 935L904.6 951.1L909.9 966L915.5 979.7L921.5 992.1L927.8 1003.3L934.4 1013.3L941.3 1022.2L948.4 1030L955.8 1036.7L963.3 1042.5L971.1 1047.2L979 1051.1L987 1054.1L995.1 1056.2L1003.3 1057.5L1011.5 1057.9L1019.7 1057.5L1027.8 1056.2L1035.9 1054.1L1043.9 1051.1L1051.8 1047.2L1059.6 1042.5L1067.2 1036.7L1074.5 1030L1081.7 1022.2L1088.5 1013.3L1095.2 1003.3L1101.4 992.1L1107.4 979.7L1113 966L1118.3 951.1L1123.1 935L1127.6 917.7L1131.6 899.6L1135.2 880.9L1138.3 862.1L1141 843.8L1143.2 826.9L1144.9 812.2L1146.2 800.8L1146.9 793.5L1147.2 791.1Z" fill="#aaff00" stroke="none"/>
<path d="M885 791.1L885.2 792.8L885.9 797.7L887.1 805.7L888.7 816.2L890.7 828.6L893.2 842.4L896.1 857.1L899.5 872.1L903.2 887L907.4 901.6L911.9 915.6L916.8 928.9L922 941.3L927.6 952.7L933.5 963.2L939.6 972.7L946 981.2L952.7 988.8L959.6 995.4L966.6 1001.1L973.8 1005.9L981.2 1009.7L988.7 1012.7L996.2 1014.8L1003.8 1016.1L1011.5 1016.5L1019.1 1016.1L1026.7 1014.8L1034.3 1012.7L1041.7 1009.7L1049.1 1005.9L1056.3 1001.1L1063.4 995.4L1070.2 988.8L1076.9 981.2L1083.3 972.7L1089.5 963.2L1095.3 952.7L1100.9 941.3L1106.1 928.9L1111 915.6L1115.6 901.6L1119.7 887L1123.5 872.1L1126.8 857.1L1129.7 842.4L1132.2 828.6L1134.3 816.2L1135.9 805.7L1137 797.7L1137.7 792.8L1137.9 791.1Z" fill="#dbff00" stroke="none"/>
<path d="M894.5 791.1L894.7 792.3L895.4 795.8L896.4 801.6L897.9 809.3L899.8 818.6L902.1 829.1L904.8 840.5L907.9 852.4L911.4 864.5L915.2 876.6L919.4 888.4L923.9 899.8L928.8 910.6L933.9 920.7L939.3 930.1L945 938.8L951 946.6L957.1 953.7L963.5 959.8L970 965.2L976.7 969.7L983.5 973.4L990.4 976.2L997.4 978.3L1004.4 979.5L1011.5 979.9L1018.5 979.5L1025.6 978.3L1032.5 976.2L1039.5 973.4L1046.3 969.7L1052.9 965.2L1059.5 959.8L1065.8 953.7L1072 946.6L1077.9 938.8L1083.6 930.1L1089 920.7L1094.2 910.6L1099 899.8L1103.5 888.4L1107.7 876.6L1111.6 864.5L1115 852.4L1118.1 840.5L1120.8 829.1L1123.1 818.6L1125 809.3L1126.5 801.6L1127.6 795.8L1128.2 792.3L1128.4 791.1Z" fill="#fff300" stroke="none"/>
<path d="M904.5 791.1L904.7 791.9L905.2 794.5L906.2 798.8L907.6 804.4L909.3 811.4L911.4 819.4L913.9 828.1L916.7 837.4L919.9 847.1L923.4 856.8L927.2 866.5L931.4 876L935.8 885.1L940.5 893.8L945.5 902L950.7 909.6L956.1 916.5L961.7 922.8L967.5 928.3L973.5 933.1L979.6 937.2L985.9 940.6L992.2 943.2L998.6 945.1L1005 946.2L1011.5 946.6L1017.9 946.2L1024.4 945.1L1030.8 943.2L1037.1 940.6L1043.3 937.2L1049.4 933.1L1055.4 928.3L1061.2 922.8L1066.8 916.5L1072.3 909.6L1077.5 902L1082.4 893.8L1087.1 885.1L1091.6 876L1095.7 866.5L1099.5 856.8L1103 847.1L1106.2 837.4L1109 828.1L1111.5 819.4L1113.6 811.4L1115.4 804.4L1116.7 798.8L1117.7 794.5L1118.3 791.9L1118.5 791.1Z" fill="#ffc200" stroke="none"/>
<path d="M915 791.1L915.2 791.7L915.7 793.6L916.6 796.6L917.8 800.8L919.4 805.9L921.3 811.9L923.5 818.5L926.1 825.6L928.9 833.1L932.1 840.8L935.5 848.5L939.3 856.1L943.3 863.5L947.5 870.7L952 877.5L956.7 883.8L961.6 889.7L966.6 895.1L971.9 899.8L977.3 904L982.8 907.6L988.4 910.5L994.1 912.8L999.8 914.5L1005.6 915.5L1011.5 915.8L1017.3 915.5L1023.1 914.5L1028.8 912.8L1034.5 910.5L1040.2 907.6L1045.7 904L1051 899.8L1056.3 895.1L1061.4 889.7L1066.3 883.8L1070.9 877.5L1075.4 870.7L1079.7 863.5L1083.7 856.1L1087.4 848.5L1090.8 840.8L1094 833.1L1096.9 825.6L1099.4 818.5L1101.6 811.9L1103.5 805.9L1105.1 800.8L1106.3 796.6L1107.2 793.6L1107.7 791.7L1107.9 791.1Z" fill="#ff9200" stroke="none"/>
<path d="M926.5 791.1L926.6 791.5L927.1 792.8L927.9 795L928.9 798L930.3 801.6L932 805.9L933.9 810.8L936.2 816L938.7 821.6L941.5 827.3L944.5 833.2L947.8 839L951.4 844.8L955.1 850.4L959 855.8L963.2 860.8L967.5 865.6L972 869.9L976.6 873.8L981.3 877.2L986.2 880.2L991.1 882.6L996.1 884.5L1001.2 885.9L1006.3 886.7L1011.5 887L1016.6 886.7L1021.7 885.9L1026.8 884.5L1031.8 882.6L1036.8 880.2L1041.6 877.2L1046.4 873.8L1051 869.9L1055.4 865.6L1059.8 860.8L1063.9 855.8L1067.8 850.4L1071.6 844.8L1075.1 839L1078.4 833.2L1081.4 827.3L1084.2 821.6L1086.7 816L1089 810.8L1090.9 805.9L1092.6 801.6L1094 798L1095.1 795L1095.9 792.8L1096.3 791.5L1096.5 791.1Z" fill="#ff6100" stroke="none"/>
<path d="M939.2 791.1L939.4 791.3L939.7 792.2L940.4 793.7L941.3 795.7L942.5 798.1L943.9 801L945.6 804.3L947.5 807.9L949.6 811.8L952 815.8L954.6 820L957.4 824.1L960.4 828.3L963.6 832.3L966.9 836.3L970.4 840L974.1 843.5L977.9 846.8L981.8 849.7L985.8 852.3L990 854.6L994.2 856.4L998.4 857.9L1002.8 858.9L1007.1 859.6L1011.5 859.8L1015.8 859.6L1020.2 858.9L1024.5 857.9L1028.8 856.4L1033 854.6L1037.1 852.3L1041.1 849.7L1045 846.8L1048.8 843.5L1052.5 840L1056 836.3L1059.4 832.3L1062.6 828.3L1065.5 824.1L1068.3 820L1070.9 815.8L1073.3 811.8L1075.4 807.9L1077.3 804.3L1079 801L1080.4 798.1L1081.6 795.7L1082.5 793.7L1083.2 792.2L1083.6 791.3L1083.7 791.1Z" fill="#ff3100" stroke="none"/>
<rect x="1173.8" y="837.6" width="324.7" height="484.3" fill="#00ff18" stroke="none"/>
<path d="M1182.6 791.1L1182.9 799.6L1183.8 823L1185.1 855.8L1187.1 892.2L1189.6 928.3L1192.6 961.8L1196.2 991.7L1200.2 1018.1L1204.8 1041.1L1209.8 1061L1215.3 1078.2L1221.3 1093.2L1227.6 1106.1L1234.4 1117.3L1241.5 1127L1249 1135.4L1256.8 1142.6L1264.8 1148.8L1273.2 1154.1L1281.7 1158.5L1290.5 1162.1L1299.4 1165L1308.5 1167.2L1317.7 1168.8L1326.9 1169.7L1336.2 1170L1345.5 1169.7L1354.7 1168.8L1363.9 1167.2L1372.9 1165L1381.9 1162.1L1390.7 1158.5L1399.2 1154.1L1407.6 1148.8L1415.6 1142.6L1423.4 1135.4L1430.9 1127L1438 1117.3L1444.8 1106.1L1451.1 1093.2L1457.1 1078.2L1462.6 1061L1467.6 1041.1L1472.2 1018.1L1476.2 991.7L1479.8 961.8L1482.8 928.3L1485.3 892.2L1487.2 855.8L1488.6 823L1489.5 799.6L1489.8 791.1Z" fill="#00ff49" stroke="none"/>
<path d="M1191.5 791.1L1191.8 795.1L1192.6 806.7L1193.9 824.4L1195.7 846.1L1198.1 870.1L1200.9 894.8L1204.2 918.9L1208.1 941.9L1212.4 963.2L1217.1 982.7L1222.3 1000.4L1227.9 1016.4L1233.9 1030.6L1240.2 1043.3L1247 1054.5L1254 1064.4L1261.3 1073L1269 1080.5L1276.8 1086.9L1284.9 1092.3L1293.1 1096.8L1301.6 1100.4L1310.1 1103.2L1318.8 1105.2L1327.5 1106.3L1336.2 1106.7L1344.9 1106.3L1353.6 1105.2L1362.3 1103.2L1370.8 1100.4L1379.2 1096.8L1387.5 1092.3L1395.6 1086.9L1403.4 1080.5L1411.1 1073L1418.4 1064.4L1425.4 1054.5L1432.1 1043.3L1438.5 1030.6L1444.5 1016.4L1450.1 1000.4L1455.3 982.7L1460 963.2L1464.3 941.9L1468.1 918.9L1471.5 894.8L1474.3 870.1L1476.7 846.1L1478.5 824.4L1479.8 806.7L1480.6 795.1L1480.9 791.1Z" fill="#00ff79" stroke="none"/>
<path d="M1200.5 791.1L1200.7 793.5L1201.5 800.8L1202.7 812.2L1204.4 826.9L1206.6 843.8L1209.3 862.1L1212.5 880.9L1216 899.6L1220.1 917.7L1224.5 935L1229.4 951.1L1234.6 966L1240.2 979.7L1246.2 992.1L1252.5 1003.3L1259.1 1013.3L1266 1022.2L1273.1 1030L1280.5 1036.7L1288.1 1042.5L1295.8 1047.2L1303.7 1051.1L1311.7 1054.1L1319.8 1056.2L1328 1057.5L1336.2 1057.9L1344.4 1057.5L1352.6 1056.2L1360.7 1054.1L1368.7 1051.1L1376.6 1047.2L1384.3 1042.5L1391.9 1036.7L1399.3 1030L1406.4 1022.2L1413.3 1013.3L1419.9 1003.3L1426.2 992.1L1432.1 979.7L1437.8 966L1443 951.1L1447.9 935L1452.3 917.7L1456.3 899.6L1459.9 880.9L1463.1 862.1L1465.7 843.8L1467.9 826.9L1469.7 812.2L1470.9 800.8L1471.6 793.5L1471.9 791.1Z" fill="#00ffaa" stroke="none"/>
<path d="M1209.7 791.1L1209.9 792.8L1210.6 797.7L1211.8 805.7L1213.4 816.2L1215.4 828.6L1217.9 842.4L1220.9 857.1L1224.2 872.1L1228 887L1232.1 901.6L1236.6 915.6L1241.5 928.9L1246.8 941.3L1252.3 952.7L1258.2 963.2L1264.3 972.7L1270.8 981.2L1277.4 988.8L1284.3 995.4L1291.3 1001.1L1298.6 1005.9L1305.9 1009.7L1313.4 1012.7L1321 1014.8L1328.6 1016.1L1336.2 1016.5L1343.8 1016.1L1351.4 1014.8L1359 1012.7L1366.5 1009.7L1373.8 1005.9L1381 1001.1L1388.1 995.4L1395 988.8L1401.6 981.2L1408 972.7L1414.2 963.2L1420.1 952.7L1425.6 941.3L1430.9 928.9L1435.8 915.6L1440.3 901.6L1444.4 887L1448.2 872.1L1451.5 857.1L1454.5 842.4L1456.9 828.6L1459 816.2L1460.6 805.7L1461.8 797.7L1462.4 792.8L1462.7 791.1Z" fill="#00ffdb" stroke="none"/>
<path d="M1219.2 791.1L1219.5 792.3L1220.1 795.8L1221.2 801.6L1222.6 809.3L1224.5 818.6L1226.8 829.1L1229.5 840.5L1232.6 852.4L1236.1 864.5L1239.9 876.6L1244.1 888.4L1248.7 899.8L1253.5 910.6L1258.6 920.7L1264.1 930.1L1269.8 938.8L1275.7 946.6L1281.8 953.7L1288.2 959.8L1294.7 965.2L1301.4 969.7L1308.2 973.4L1315.1 976.2L1322.1 978.3L1329.1 979.5L1336.2 979.9L1343.3 979.5L1350.3 978.3L1357.3 976.2L1364.2 973.4L1371 969.7L1377.7 965.2L1384.2 959.8L1390.5 953.7L1396.7 946.6L1402.6 938.8L1408.3 930.1L1413.8 920.7L1418.9 910.6L1423.7 899.8L1428.3 888.4L1432.5 876.6L1436.3 864.5L1439.8 852.4L1442.9 840.5L1445.6 829.1L1447.9 818.6L1449.8 809.3L1451.2 801.6L1452.3 795.8L1452.9 792.3L1453.2 791.1Z" fill="#00f3ff" stroke="none"/>
<path d="M1229.2 791.1L1229.4 791.9L1230 794.5L1230.9 798.8L1232.3 804.4L1234 811.4L1236.1 819.4L1238.6 828.1L1241.4 837.4L1244.6 847.1L1248.1 856.8L1252 866.5L1256.1 876L1260.5 885.1L1265.2 893.8L1270.2 902L1275.4 909.6L1280.8 916.5L1286.5 922.8L1292.3 928.3L1298.3 933.1L1304.4 937.2L1310.6 940.6L1316.9 943.2L1323.3 945.1L1329.7 946.2L1336.2 946.6L1342.7 946.2L1349.1 945.1L1355.5 943.2L1361.8 940.6L1368 937.2L1374.1 933.1L1380.1 928.3L1385.9 922.8L1391.6 916.5L1397 909.6L1402.2 902L1407.2 893.8L1411.9 885.1L1416.3 876L1420.4 866.5L1424.3 856.8L1427.8 847.1L1430.9 837.4L1433.8 828.1L1436.2 819.4L1438.4 811.4L1440.1 804.4L1441.4 798.8L1442.4 794.5L1443 791.9L1443.2 791.1Z" fill="#00c2ff" stroke="none"/>
<path d="M1239.8 791.1L1239.9 791.7L1240.5 793.6L1241.3 796.6L1242.6 800.8L1244.1 805.9L1246 811.9L1248.3 818.5L1250.8 825.6L1253.7 833.1L1256.8 840.8L1260.3 848.5L1264 856.1L1268 863.5L1272.2 870.7L1276.7 877.5L1281.4 883.8L1286.3 889.7L1291.4 895.1L1296.6 899.8L1302 904L1307.5 907.6L1313.1 910.5L1318.8 912.8L1324.6 914.5L1330.4 915.5L1336.2 915.8L1342 915.5L1347.8 914.5L1353.6 912.8L1359.3 910.5L1364.9 907.6L1370.4 904L1375.8 899.8L1381 895.1L1386.1 889.7L1391 883.8L1395.7 877.5L1400.1 870.7L1404.4 863.5L1408.4 856.1L1412.1 848.5L1415.6 840.8L1418.7 833.1L1421.6 825.6L1424.1 818.5L1426.4 811.9L1428.3 805.9L1429.8 800.8L1431.1 796.6L1431.9 793.6L1432.5 791.7L1432.6 791.1Z" fill="#0092ff" stroke="none"/>
<path d="M1251.2 791.1L1251.3 791.5L1251.8 792.8L1252.6 795L1253.7 798L1255 801.6L1256.7 805.9L1258.7 810.8L1260.9 816L1263.4 821.6L1266.2 827.3L1269.3 833.2L1272.6 839L1276.1 844.8L1279.8 850.4L1283.8 855.8L1287.9 860.8L1292.2 865.6L1296.7 869.9L1301.3 873.8L1306.1 877.2L1310.9 880.2L1315.9 882.6L1320.9 884.5L1325.9 885.9L1331.1 886.7L1336.2 887L1341.3 886.7L1346.4 885.9L1351.5 884.5L1356.5 882.6L1361.5 880.2L1366.3 877.2L1371.1 873.8L1375.7 869.9L1380.2 865.6L1384.5 860.8L1388.6 855.8L1392.6 850.4L1396.3 844.8L1399.8 839L1403.1 833.2L1406.2 827.3L1408.9 821.6L1411.5 816L1413.7 810.8L1415.7 805.9L1417.4 801.6L1418.7 798L1419.8 795L1420.6 792.8L1421 791.5L1421.2 791.1Z" fill="#0061ff" stroke="none"/>
<path d="M1264 791.1L1264.1 791.3L1264.5 792.2L1265.1 793.7L1266.1 795.7L1267.2 798.1L1268.6 801L1270.3 804.3L1272.2 807.9L1274.4 811.8L1276.7 815.8L1279.3 820L1282.1 824.1L1285.1 828.3L1288.3 832.3L1291.6 836.3L1295.2 840L1298.8 843.5L1302.6 846.8L1306.5 849.7L1310.6 852.3L1314.7 854.6L1318.9 856.4L1323.2 857.9L1327.5 858.9L1331.8 859.6L1336.2 859.8L1340.6 859.6L1344.9 858.9L1349.2 857.9L1353.5 856.4L1357.7 854.6L1361.8 852.3L1365.8 849.7L1369.8 846.8L1373.6 843.5L1377.2 840L1380.8 836.3L1384.1 832.3L1387.3 828.3L1390.3 824.1L1393.1 820L1395.7 815.8L1398 811.8L1400.2 807.9L1402.1 804.3L1403.7 801L1405.2 798.1L1406.3 795.7L1407.3 793.7L1407.9 792.2L1408.3 791.3L1408.4 791.1Z" fill="#0031ff" stroke="none"/>
<path d="M524.4 837.6V1322M849.1 837.6V1322M1173.8 837.6V1322" fill="none"/>
<path d="M214 834H229V841H214ZM496 834H510V841H496ZM218 841H232V856H218ZM492 841H507V856H492ZM222 856H232V871H222ZM492 856H503V871H492ZM225 871H232V878H225ZM492 871H499V878H492ZM225 878H236V882H225ZM489 878H499V882H489ZM229 882H236V920H229ZM489 882H496V920H489ZM229 920H240V923H229ZM485 920H496V923H485ZM232 923H240V961H232ZM485 923H492V961H485ZM232 961H243V964H232ZM481 961H492V964H481ZM236 964H243V1010H236ZM481 964H489V1010H481ZM236 1010H247V1012H236ZM478 1010H489V1012H478ZM240 1012H247V1050H240ZM478 1012H485V1050H478ZM243 1065H251V1098H243ZM474 1065H481V1098H474ZM247 1140H254V1158H247ZM471 1140H478V1158H471ZM251 1288H258V1296H251ZM467 1288H474V1296H467ZM283 857H290V864H283ZM435 857H442V864H435ZM539 834H554V841H539ZM821 834H835V841H821ZM543 841H557V856H543ZM817 841H831V856H817ZM546 856H557V871H546ZM817 856H828V871H817ZM550 871H557V878H550ZM817 871H824V878H817ZM550 878H561V882H550ZM813 878H824V882H813ZM554 882H561V920H554ZM813 882H821V920H813ZM554 920H564V923H554ZM810 920H821V923H810ZM557 923H564V961H557ZM810 923H817V961H810ZM557 961H568V964H557ZM806 961H817V964H806ZM561 964H568V1010H561ZM806 964H813V1010H806ZM561 1010H572V1012H561ZM803 1010H813V1012H803ZM564 1012H572V1050H564ZM803 1012H810V1050H803ZM568 1065H575V1098H568ZM799 1065H806V1098H799ZM572 1140H579V1158H572ZM795 1140H803V1158H795ZM575 1288H582V1296H575ZM792 1288H799V1296H792ZM608 857H615V864H608ZM759 857H766V864H759ZM864 834H878V841H864ZM1145 834H1160V841H1145ZM868 841H882V856H868ZM1142 841H1156V856H1142ZM871 856H882V871H871ZM1142 856H1153V871H1142ZM875 871H882V878H875ZM1142 871H1149V878H1142ZM875 878H886V882H875ZM1138 878H1149V882H1138ZM878 882H886V920H878ZM1138 882H1145V920H1138ZM878 920H889V923H878ZM1135 920H1145V923H1135ZM882 923H889V961H882ZM1135 923H1142V961H1135ZM882 961H893V964H882ZM1131 961H1142V964H1131ZM886 964H893V1010H886ZM1131 964H1138V1010H1131ZM886 1010H896V1012H886ZM1127 1010H1138V1012H1127ZM889 1012H896V1050H889ZM1127 1012H1135V1050H1127ZM893 1065H900V1098H893ZM1124 1065H1131V1098H1124ZM896 1140H904V1158H896ZM1120 1140H1127V1158H1120ZM900 1288H907V1296H900ZM1116 1288H1124V1296H1116ZM932 857H940V864H932ZM1084 857H1091V864H1084ZM1189 834H1203V841H1189ZM1470 834H1485V841H1470ZM1192 841H1207V856H1192ZM1466 841H1481V856H1466ZM1196 856H1207V871H1196ZM1466 856H1477V871H1466ZM1199 871H1207V878H1199ZM1466 871H1474V878H1466ZM1199 878H1210V882H1199ZM1463 878H1474V882H1463ZM1203 882H1210V920H1203ZM1463 882H1470V920H1463ZM1203 920H1214V923H1203ZM1459 920H1470V923H1459ZM1207 923H1214V961H1207ZM1459 923H1466V961H1459ZM1207 961H1218V964H1207ZM1456 961H1466V964H1456ZM1210 964H1218V1010H1210ZM1456 964H1463V1010H1456ZM1210 1010H1221V1012H1210ZM1452 1010H1463V1012H1452ZM1214 1012H1221V1050H1214ZM1452 1012H1459V1050H1452ZM1218 1065H1225V1098H1218ZM1448 1065H1456V1098H1448ZM1221 1140H1228V1158H1221ZM1445 1140H1452V1158H1445ZM1225 1288H1232V1296H1225ZM1441 1288H1448V1296H1441ZM1257 857H1264V864H1257ZM1409 857H1416V864H1409Z" fill="#fff" stroke="none"/>
<path d="M208.4 791.1L208.7 799.6L209.6 823L211 855.8L212.9 892.2L215.4 928.3L218.4 961.8L222 991.7L226 1018.1L230.6 1041.1L235.6 1061L241.1 1078.2L243.5 1084.1M249.5 1098.1L253.4 1106.1L260.2 1117.3L267.3 1127L274.8 1135.4L282.6 1142.6L290.6 1148.8L299 1154.1L307.5 1158.5L316.3 1162.1L325.3 1165L334.3 1167.2L343.5 1168.8L352.7 1169.7L362 1170L371.3 1169.7L380.5 1168.8L389.7 1167.2L398.8 1165L407.7 1162.1L416.5 1158.5L425 1154.1L433.4 1148.8L441.4 1142.6L449.2 1135.4L456.7 1127L463.8 1117.3L470.6 1106.1L474.5 1098.1M480.5 1084.1L482.9 1078.2L488.4 1061L493.4 1041.1L498 1018.1L502 991.7L505.6 961.8L508.6 928.3L511.1 892.2L513.1 855.8L514.4 823L515.3 799.6L515.6 791.1M217.3 791.1L217.6 795.1L218.4 806.7L219.7 824.4L220.5 833.8M224 871.1L226.7 894.8L229.4 914.5M230.8 923.3L232.5 933.6M242.6 981.3L242.9 982.7L248.1 1000.4L253.7 1016.4L259.7 1030.6L266.1 1043.3L272.8 1054.5L279.8 1064.4L287.1 1073L294.8 1080.5L302.6 1086.9L310.7 1092.3L319 1096.8L327.4 1100.4L335.9 1103.2L344.6 1105.2L353.3 1106.3L362 1106.7L370.7 1106.3L379.4 1105.2L388.1 1103.2L396.6 1100.4L405.1 1096.8L413.3 1092.3L421.4 1086.9L429.2 1080.5L436.9 1073L444.2 1064.4L451.2 1054.5L458 1043.3L464.3 1030.6L470.3 1016.4L475.9 1000.4L481.1 982.7L481.4 981.3M491.5 933.6L493.2 923.3M495.5 907.6L497.3 894.8L500 871.1M503.5 833.8L504.3 824.4L505.6 806.7L506.4 795.1L506.7 791.1M226.3 791.1L226.6 793.5L227.3 800.8L228.5 812.2L230.3 826.9L232.5 843.8L235.1 862.1L238.3 880.9L241.9 899.6L245.9 917.7L250.3 935L255.2 951.1L260.4 966L266.1 979.7L272 992.1L278.3 1003.3L284.9 1013.3L291.8 1022.2L298.9 1030L306.3 1036.7L313.9 1042.5L321.6 1047.2L329.5 1051.1L337.5 1054.1L345.6 1056.2L353.8 1057.5L362 1057.9L370.2 1057.5L378.4 1056.2L386.5 1054.1L394.5 1051.1L402.4 1047.2L410.1 1042.5L417.7 1036.7L425.1 1030L432.2 1022.2L439.1 1013.3L445.7 1003.3L452 992.1L458 979.7L463.6 966L468.8 951.1L473.7 935L478.1 917.7L482.2 899.6L485.7 880.9L488.9 862.1L491.6 843.8L493.8 826.9L495.5 812.2L496.7 800.8L497.5 793.5L497.7 791.1M235.5 791.1L235.8 792.8L236.4 797.7L237.6 805.7L239.2 816.2L241.3 828.6L243.7 842.4L246.7 857.1L250 872.1L253.8 887L257.9 901.6L262.4 915.6L267.3 928.9L272.6 941.3L278.1 952.7L284 963.2L290.2 972.7L296.6 981.2L303.2 988.8L310.1 995.4L317.2 1001.1L324.4 1005.9L331.7 1009.7L339.2 1012.7L346.8 1014.8L354.4 1016.1L362 1016.5L369.6 1016.1L377.2 1014.8L384.8 1012.7L392.3 1009.7L399.6 1005.9L406.9 1001.1L413.9 995.4L420.8 988.8L427.4 981.2L433.9 972.7L440 963.2L445.9 952.7L451.4 941.3L456.7 928.9L461.6 915.6L466.1 901.6L470.2 887L474 872.1L477.3 857.1L480.3 842.4L482.8 828.6L484.8 816.2L486.4 805.7L487.6 797.7L488.3 792.8L488.5 791.1M245 791.1L245.3 792.3L245.9 795.8L247 801.6L248.4 809.3L250.3 818.6L252.6 829.1L255.3 840.5L258.4 852.4L261.9 864.5L265.7 876.6L269.9 888.4L274.5 899.8L279.3 910.6L284.4 920.7L289.9 930.1L295.6 938.8L301.5 946.6L307.7 953.7L314 959.8L320.5 965.2L327.2 969.7L334 973.4L340.9 976.2L347.9 978.3L354.9 979.5L362 979.9L369.1 979.5L376.1 978.3L383.1 976.2L390 973.4L396.8 969.7L403.5 965.2L410 959.8L416.4 953.7L422.5 946.6L428.4 938.8L434.1 930.1L439.6 920.7L444.7 910.6L449.5 899.8L454.1 888.4L458.3 876.6L462.1 864.5L465.6 852.4L468.7 840.5L471.4 829.1L473.7 818.6L475.6 809.3L477 801.6L478.1 795.8L478.7 792.3L479 791.1M255 791.1L255.2 791.9L255.8 794.5L256.8 798.8L258.1 804.4L259.8 811.4L262 819.4L264.4 828.1L267.3 837.4L270.4 847.1L273.9 856.8L277.8 866.5L281.9 876L286.3 885.1L291 893.8L296 902L301.2 909.6L306.6 916.5L312.3 922.8L318.1 928.3L324.1 933.1L330.2 937.2L336.4 940.6L342.7 943.2L349.1 945.1L355.5 946.2L362 946.6L368.5 946.2L374.9 945.1L381.3 943.2L387.6 940.6L393.8 937.2L399.9 933.1L405.9 928.3L411.7 922.8L417.4 916.5L422.8 909.6L428 902L433 893.8L437.7 885.1L442.1 876L446.2 866.5L450.1 856.8L453.6 847.1L456.8 837.4L459.6 828.1L462.1 819.4L464.2 811.4L465.9 804.4L467.3 798.8L468.2 794.5L468.8 791.9L469 791.1M265.6 791.1L265.7 791.7L266.3 793.6L267.1 796.6L268.4 800.8L269.9 805.9L271.8 811.9L274.1 818.5L276.6 825.6L279.5 833.1L282.6 840.8L286.1 848.5L289.8 856.1L293.8 863.5L298.1 870.7L302.5 877.5L307.2 883.8L312.1 889.7L317.2 895.1L322.4 899.8L327.8 904L333.3 907.6L338.9 910.5L344.6 912.8L350.4 914.5L356.2 915.5L362 915.8L367.8 915.5L373.6 914.5L379.4 912.8L385.1 910.5L390.7 907.6L396.2 904L401.6 899.8L406.8 895.1L411.9 889.7L416.8 883.8L421.5 877.5L426 870.7L430.2 863.5L434.2 856.1L437.9 848.5L441.4 840.8L444.5 833.1L447.4 825.6L449.9 818.5L452.2 811.9L454.1 805.9L455.6 800.8L456.9 796.6L457.7 793.6L458.3 791.7L458.4 791.1M277 791.1L277.2 791.5L277.6 792.8L278.4 795L279.5 798L280.8 801.6L282.5 805.9L284.5 810.8L286.7 816L289.3 821.6L292 827.3L295.1 833.2L298.4 839L301.9 844.8L305.6 850.4L309.6 855.8L313.7 860.8L318 865.6L322.5 869.9L327.1 873.8L331.9 877.2L336.7 880.2L341.7 882.6L346.7 884.5L351.8 885.9L356.9 886.7L362 887L367.1 886.7L372.3 885.9L377.3 884.5L382.3 882.6L387.3 880.2L392.1 877.2L396.9 873.8L401.5 869.9L406 865.6L410.3 860.8L414.4 855.8L418.4 850.4L422.1 844.8L425.6 839L428.9 833.2L432 827.3L434.8 821.6L437.3 816L439.5 810.8L441.5 805.9L443.2 801.6L444.5 798L445.6 795L446.4 792.8L446.9 791.5L447 791.1M289.8 791.1L289.9 791.3L290.3 792.2L290.9 793.7L291.9 795.7L293 798.1L294.5 801L296.1 804.3L298 807.9L300.2 811.8L302.5 815.8L305.1 820L307.9 824.1L310.9 828.3L314.1 832.3L317.4 836.3L321 840L324.6 843.5L328.4 846.8L332.4 849.7L336.4 852.3L340.5 854.6L344.7 856.4L349 857.9L353.3 858.9L357.6 859.6L362 859.8L366.4 859.6L370.7 858.9L375 857.9L379.3 856.4L383.5 854.6L387.6 852.3L391.7 849.7L395.6 846.8L399.4 843.5L403 840L406.6 836.3L409.9 832.3L413.1 828.3L416.1 824.1L418.9 820L421.5 815.8L423.8 811.8L426 807.9L427.9 804.3L429.6 801L431 798.1L432.1 795.7L433.1 793.7L433.7 792.2L434.1 791.3L434.2 791.1M533.2 791.1L533.5 799.6L534.3 823L535.7 855.8L537.6 892.2L540.1 928.3L543.2 961.8L546.7 991.7L550.8 1018.1L555.3 1041.1L560.4 1061L565.9 1078.2L568.4 1084.6M574.2 1098.1L578.1 1106.1L584.9 1117.3L592 1127L599.5 1135.4L607.3 1142.6L615.4 1148.8L623.7 1154.1L632.3 1158.5L641 1162.1L650 1165L659.1 1167.2L668.2 1168.8L677.5 1169.7L686.7 1170L696 1169.7L705.2 1168.8L714.4 1167.2L723.5 1165L732.4 1162.1L741.2 1158.5L749.8 1154.1L758.1 1148.8L766.2 1142.6L774 1135.4L781.4 1127L788.6 1117.3L795.3 1106.1L799.5 1097.6M805.6 1083.2L807.6 1078.2L813.1 1061L818.2 1041.1L822.7 1018.1L826.8 991.7L830.3 961.8L833.3 928.3L835.8 892.2L837.8 855.8L839.2 823L840 799.6L840.3 791.1M542 791.1L542.3 795.1L543.1 806.7L544.4 824.4L545.2 833.8M548.7 871.1L551.4 894.8L554.4 916.5M555.5 923.3L557.5 935M567.5 982.3L567.7 982.7L572.8 1000.4L578.4 1016.4L584.4 1030.6L590.8 1043.3L597.5 1054.5L604.5 1064.4L611.9 1073L619.5 1080.5L627.3 1086.9L635.4 1092.3L643.7 1096.8L652.1 1100.4L660.7 1103.2L669.3 1105.2L678 1106.3L686.7 1106.7L695.5 1106.3L704.2 1105.2L712.8 1103.2L721.4 1100.4L729.8 1096.8L738 1092.3L746.1 1086.9L754 1080.5L761.6 1073L768.9 1064.4L776 1054.5L782.7 1043.3L789 1030.6L795 1016.4L800.6 1000.4L805.8 982.7L806.4 980.4M816.6 931.6L817.9 923.3M820.5 905.6L822 894.8L824.8 871.1M828.3 833.8L829.1 824.4L830.4 806.7L831.2 795.1L831.4 791.1M551 791.1L551.3 793.5L552 800.8L553.3 812.2L555 826.9L557.2 843.8L559.9 862.1L563 880.9L566.6 899.6L570.6 917.7L575.1 935L579.9 951.1L585.2 966L590.8 979.7L596.8 992.1L603 1003.3L609.7 1013.3L616.5 1022.2L623.7 1030L631 1036.7L638.6 1042.5L646.4 1047.2L654.3 1051.1L662.3 1054.1L670.4 1056.2L678.5 1057.5L686.7 1057.9L694.9 1057.5L703.1 1056.2L711.2 1054.1L719.2 1051.1L727.1 1047.2L734.9 1042.5L742.4 1036.7L749.8 1030L756.9 1022.2L763.8 1013.3L770.4 1003.3L776.7 992.1L782.7 979.7L788.3 966L793.6 951.1L798.4 935L802.9 917.7L806.9 899.6L810.5 880.9L813.6 862.1L816.3 843.8L818.5 826.9L820.2 812.2L821.4 800.8L822.2 793.5L822.4 791.1M560.3 791.1L560.5 792.8L561.2 797.7L562.3 805.7L563.9 816.2L566 828.6L568.5 842.4L571.4 857.1L574.7 872.1L578.5 887L582.6 901.6L587.2 915.6L592.1 928.9L597.3 941.3L602.9 952.7L608.7 963.2L614.9 972.7L621.3 981.2L628 988.8L634.8 995.4L641.9 1001.1L649.1 1005.9L656.5 1009.7L663.9 1012.7L671.5 1014.8L679.1 1016.1L686.7 1016.5L694.4 1016.1L702 1014.8L709.5 1012.7L717 1009.7L724.4 1005.9L731.6 1001.1L738.6 995.4L745.5 988.8L752.2 981.2L758.6 972.7L764.7 963.2L770.6 952.7L776.2 941.3L781.4 928.9L786.3 915.6L790.8 901.6L795 887L798.7 872.1L802.1 857.1L805 842.4L807.5 828.6L809.5 816.2L811.1 805.7L812.3 797.7L813 792.8L813.2 791.1M569.8 791.1L570 792.3L570.6 795.8L571.7 801.6L573.2 809.3L575.1 818.6L577.4 829.1L580.1 840.5L583.2 852.4L586.6 864.5L590.5 876.6L594.7 888.4L599.2 899.8L604 910.6L609.2 920.7L614.6 930.1L620.3 938.8L626.2 946.6L632.4 953.7L638.7 959.8L645.3 965.2L651.9 969.7L658.7 973.4L665.7 976.2L672.6 978.3L679.7 979.5L686.7 979.9L693.8 979.5L700.8 978.3L707.8 976.2L714.7 973.4L721.5 969.7L728.2 965.2L734.7 959.8L741.1 953.7L747.2 946.6L753.2 938.8L758.9 930.1L764.3 920.7L769.4 910.6L774.3 899.8L778.8 888.4L783 876.6L786.8 864.5L790.3 852.4L793.4 840.5L796.1 829.1L798.4 818.6L800.3 809.3L801.8 801.6L802.8 795.8L803.5 792.3L803.7 791.1M579.7 791.1L579.9 791.9L580.5 794.5L581.5 798.8L582.8 804.4L584.6 811.4L586.7 819.4L589.2 828.1L592 837.4L595.2 847.1L598.7 856.8L602.5 866.5L606.6 876L611.1 885.1L615.8 893.8L620.7 902L625.9 909.6L631.4 916.5L637 922.8L642.8 928.3L648.8 933.1L654.9 937.2L661.1 940.6L667.4 943.2L673.8 945.1L680.3 946.2L686.7 946.6L693.2 946.2L699.6 945.1L706 943.2L712.3 940.6L718.6 937.2L724.7 933.1L730.7 928.3L736.5 922.8L742.1 916.5L747.5 909.6L752.7 902L757.7 893.8L762.4 885.1L766.8 876L771 866.5L774.8 856.8L778.3 847.1L781.5 837.4L784.3 828.1L786.8 819.4L788.9 811.4L790.6 804.4L792 798.8L793 794.5L793.5 791.9L793.7 791.1M590.3 791.1L590.5 791.7L591 793.6L591.9 796.6L593.1 800.8L594.7 805.9L596.6 811.9L598.8 818.5L601.3 825.6L604.2 833.1L607.4 840.8L610.8 848.5L614.5 856.1L618.5 863.5L622.8 870.7L627.3 877.5L631.9 883.8L636.8 889.7L641.9 895.1L647.2 899.8L652.5 904L658 907.6L663.7 910.5L669.4 912.8L675.1 914.5L680.9 915.5L686.7 915.8L692.6 915.5L698.4 914.5L704.1 912.8L709.8 910.5L715.4 907.6L720.9 904L726.3 899.8L731.6 895.1L736.6 889.7L741.5 883.8L746.2 877.5L750.7 870.7L754.9 863.5L758.9 856.1L762.7 848.5L766.1 840.8L769.3 833.1L772.1 825.6L774.7 818.5L776.9 811.9L778.8 805.9L780.4 800.8L781.6 796.6L782.5 793.6L783 791.7L783.2 791.1M601.7 791.1L601.9 791.5L602.3 792.8L603.1 795L604.2 798L605.6 801.6L607.3 805.9L609.2 810.8L611.5 816L614 821.6L616.8 827.3L619.8 833.2L623.1 839L626.6 844.8L630.4 850.4L634.3 855.8L638.4 860.8L642.8 865.6L647.2 869.9L651.8 873.8L656.6 877.2L661.4 880.2L666.4 882.6L671.4 884.5L676.5 885.9L681.6 886.7L686.7 887L691.9 886.7L697 885.9L702.1 884.5L707.1 882.6L712 880.2L716.9 877.2L721.6 873.8L726.2 869.9L730.7 865.6L735 860.8L739.2 855.8L743.1 850.4L746.8 844.8L750.4 839L753.7 833.2L756.7 827.3L759.5 821.6L762 816L764.3 810.8L766.2 805.9L767.9 801.6L769.3 798L770.3 795L771.1 792.8L771.6 791.5L771.7 791.1M614.5 791.1L614.6 791.3L615 792.2L615.7 793.7L616.6 795.7L617.8 798.1L619.2 801L620.9 804.3L622.8 807.9L624.9 811.8L627.3 815.8L629.9 820L632.7 824.1L635.6 828.3L638.8 832.3L642.2 836.3L645.7 840L649.4 843.5L653.2 846.8L657.1 849.7L661.1 852.3L665.2 854.6L669.4 856.4L673.7 857.9L678 858.9L682.4 859.6L686.7 859.8L691.1 859.6L695.4 858.9L699.8 857.9L704 856.4L708.2 854.6L712.4 852.3L716.4 849.7L720.3 846.8L724.1 843.5L727.8 840L731.3 836.3L734.6 832.3L737.8 828.3L740.8 824.1L743.6 820L746.2 815.8L748.6 811.8L750.7 807.9L752.6 804.3L754.3 801L755.7 798.1L756.9 795.7L757.8 793.7L758.5 792.2L758.8 791.3L759 791.1M857.9 791.1L858.2 799.6L859 823L860.4 855.8L862.4 892.2L864.9 928.3L867.9 961.8L871.4 991.7L875.5 1018.1L880 1041.1L885.1 1061L890.6 1078.2L893.5 1085.5M898.9 1098.1L902.9 1106.1L909.6 1117.3L916.8 1127L924.2 1135.4L932 1142.6L940.1 1148.8L948.4 1154.1L957 1158.5L965.8 1162.1L974.7 1165L983.8 1167.2L993 1168.8L1002.2 1169.7L1011.5 1170L1020.7 1169.7L1030 1168.8L1039.1 1167.2L1048.2 1165L1057.2 1162.1L1065.9 1158.5L1074.5 1154.1L1082.8 1148.8L1090.9 1142.6L1098.7 1135.4L1106.2 1127L1113.3 1117.3L1120.1 1106.1L1124.4 1097.2M1130.5 1082.7L1132.3 1078.2L1137.8 1061L1142.9 1041.1L1147.4 1018.1L1151.5 991.7L1155 961.8L1158.1 928.3L1160.6 892.2L1162.5 855.8L1163.9 823L1164.7 799.6L1165 791.1M866.8 791.1L867 795.1L867.8 806.7L869.1 824.4L869.9 833.8M873.4 871.1L876.2 894.8L878.5 911.5M880.3 923.3L882.4 936.5M892.5 983.2L897.6 1000.4L903.2 1016.4L909.2 1030.6L915.5 1043.3L922.2 1054.5L929.3 1064.4L936.6 1073L944.2 1080.5L952.1 1086.9L960.2 1092.3L968.4 1096.8L976.8 1100.4L985.4 1103.2L994 1105.2L1002.7 1106.3L1011.5 1106.7L1020.2 1106.3L1028.9 1105.2L1037.5 1103.2L1046.1 1100.4L1054.5 1096.8L1062.8 1092.3L1070.9 1086.9L1078.7 1080.5L1086.3 1073L1093.7 1064.4L1100.7 1054.5L1107.4 1043.3L1113.8 1030.6L1119.8 1016.4L1125.4 1000.4L1130.5 982.7L1131.5 978.9M1141.5 930.2L1142.7 923.3M1144.5 911L1146.8 894.8L1148.2 882.5M1148.5 879.5L1149.5 871.1M1153 833.8L1153.8 824.4L1155.1 806.7L1155.9 795.1L1156.2 791.1M875.8 791.1L876 793.5L876.8 800.8L878 812.2L879.7 826.9L881.9 843.8L884.6 862.1L887.7 880.9L891.3 899.6L895.3 917.7L899.8 935L904.6 951.1L909.9 966L915.5 979.7L921.5 992.1L927.8 1003.3L934.4 1013.3L941.3 1022.2L948.4 1030L955.8 1036.7L963.3 1042.5L971.1 1047.2L979 1051.1L987 1054.1L995.1 1056.2L1003.3 1057.5L1011.5 1057.9L1019.7 1057.5L1027.8 1056.2L1035.9 1054.1L1043.9 1051.1L1051.8 1047.2L1059.6 1042.5L1067.2 1036.7L1074.5 1030L1081.7 1022.2L1088.5 1013.3L1095.2 1003.3L1101.4 992.1L1107.4 979.7L1113 966L1118.3 951.1L1123.1 935L1127.6 917.7L1131.6 899.6L1135.2 880.9L1138.3 862.1L1141 843.8L1143.2 826.9L1144.9 812.2L1146.2 800.8L1146.9 793.5L1147.2 791.1M885 791.1L885.2 792.8L885.9 797.7L887.1 805.7L888.7 816.2L890.7 828.6L893.2 842.4L896.1 857.1L899.5 872.1L903.2 887L907.4 901.6L911.9 915.6L916.8 928.9L922 941.3L927.6 952.7L933.5 963.2L939.6 972.7L946 981.2L952.7 988.8L959.6 995.4L966.6 1001.1L973.8 1005.9L981.2 1009.7L988.7 1012.7L996.2 1014.8L1003.8 1016.1L1011.5 1016.5L1019.1 1016.1L1026.7 1014.8L1034.3 1012.7L1041.7 1009.7L1049.1 1005.9L1056.3 1001.1L1063.4 995.4L1070.2 988.8L1076.9 981.2L1083.3 972.7L1089.5 963.2L1095.3 952.7L1100.9 941.3L1106.1 928.9L1111 915.6L1115.6 901.6L1119.7 887L1123.5 872.1L1126.8 857.1L1129.7 842.4L1132.2 828.6L1134.3 816.2L1135.9 805.7L1137 797.7L1137.7 792.8L1137.9 791.1M894.5 791.1L894.7 792.3L895.4 795.8L896.4 801.6L897.9 809.3L899.8 818.6L902.1 829.1L904.8 840.5L907.9 852.4L911.4 864.5L915.2 876.6L919.4 888.4L923.9 899.8L928.8 910.6L933.9 920.7L939.3 930.1L945 938.8L951 946.6L957.1 953.7L963.5 959.8L970 965.2L976.7 969.7L983.5 973.4L990.4 976.2L997.4 978.3L1004.4 979.5L1011.5 979.9L1018.5 979.5L1025.6 978.3L1032.5 976.2L1039.5 973.4L1046.3 969.7L1052.9 965.2L1059.5 959.8L1065.8 953.7L1072 946.6L1077.9 938.8L1083.6 930.1L1089 920.7L1094.2 910.6L1099 899.8L1103.5 888.4L1107.7 876.6L1111.6 864.5L1115 852.4L1118.1 840.5L1120.8 829.1L1123.1 818.6L1125 809.3L1126.5 801.6L1127.6 795.8L1128.2 792.3L1128.4 791.1M904.5 791.1L904.7 791.9L905.2 794.5L906.2 798.8L907.6 804.4L909.3 811.4L911.4 819.4L913.9 828.1L916.7 837.4L919.9 847.1L923.4 856.8L927.2 866.5L931.4 876L935.8 885.1L940.5 893.8L945.5 902L950.7 909.6L956.1 916.5L961.7 922.8L967.5 928.3L973.5 933.1L979.6 937.2L985.9 940.6L992.2 943.2L998.6 945.1L1005 946.2L1011.5 946.6L1017.9 946.2L1024.4 945.1L1030.8 943.2L1037.1 940.6L1043.3 937.2L1049.4 933.1L1055.4 928.3L1061.2 922.8L1066.8 916.5L1072.3 909.6L1077.5 902L1082.4 893.8L1087.1 885.1L1091.6 876L1095.7 866.5L1099.5 856.8L1103 847.1L1106.2 837.4L1109 828.1L1111.5 819.4L1113.6 811.4L1115.4 804.4L1116.7 798.8L1117.7 794.5L1118.3 791.9L1118.5 791.1M915 791.1L915.2 791.7L915.7 793.6L916.6 796.6L917.8 800.8L919.4 805.9L921.3 811.9L923.5 818.5L926.1 825.6L928.9 833.1L932.1 840.8L935.5 848.5L939.3 856.1L943.3 863.5L947.5 870.7L952 877.5L956.7 883.8L961.6 889.7L966.6 895.1L971.9 899.8L977.3 904L982.8 907.6L988.4 910.5L994.1 912.8L999.8 914.5L1005.6 915.5L1011.5 915.8L1017.3 915.5L1023.1 914.5L1028.8 912.8L1034.5 910.5L1040.2 907.6L1045.7 904L1051 899.8L1056.3 895.1L1061.4 889.7L1066.3 883.8L1070.9 877.5L1075.4 870.7L1079.7 863.5L1083.7 856.1L1087.4 848.5L1090.8 840.8L1094 833.1L1096.9 825.6L1099.4 818.5L1101.6 811.9L1103.5 805.9L1105.1 800.8L1106.3 796.6L1107.2 793.6L1107.7 791.7L1107.9 791.1M926.5 791.1L926.6 791.5L927.1 792.8L927.9 795L928.9 798L930.3 801.6L932 805.9L933.9 810.8L936.2 816L938.7 821.6L941.5 827.3L944.5 833.2L947.8 839L951.4 844.8L955.1 850.4L959 855.8L963.2 860.8L967.5 865.6L972 869.9L976.6 873.8L981.3 877.2L986.2 880.2L991.1 882.6L996.1 884.5L1001.2 885.9L1006.3 886.7L1011.5 887L1016.6 886.7L1021.7 885.9L1026.8 884.5L1031.8 882.6L1036.8 880.2L1041.6 877.2L1046.4 873.8L1051 869.9L1055.4 865.6L1059.8 860.8L1063.9 855.8L1067.8 850.4L1071.6 844.8L1075.1 839L1078.4 833.2L1081.4 827.3L1084.2 821.6L1086.7 816L1089 810.8L1090.9 805.9L1092.6 801.6L1094 798L1095.1 795L1095.9 792.8L1096.3 791.5L1096.5 791.1M939.2 791.1L939.4 791.3L939.7 792.2L940.4 793.7L941.3 795.7L942.5 798.1L943.9 801L945.6 804.3L947.5 807.9L949.6 811.8L952 815.8L954.6 820L957.4 824.1L960.4 828.3L963.6 832.3L966.9 836.3L970.4 840L974.1 843.5L977.9 846.8L981.8 849.7L985.8 852.3L990 854.6L994.2 856.4L998.4 857.9L1002.8 858.9L1007.1 859.6L1011.5 859.8L1015.8 859.6L1020.2 858.9L1024.5 857.9L1028.8 856.4L1033 854.6L1037.1 852.3L1041.1 849.7L1045 846.8L1048.8 843.5L1052.5 840L1056 836.3L1059.4 832.3L1062.6 828.3L1065.5 824.1L1068.3 820L1070.9 815.8L1073.3 811.8L1075.4 807.9L1077.3 804.3L1079 801L1080.4 798.1L1081.6 795.7L1082.5 793.7L1083.2 792.2L1083.6 791.3L1083.7 791.1M1182.6 791.1L1182.9 799.6L1183.8 823L1185.1 855.8L1187.1 892.2L1189.6 928.3L1192.6 961.8L1196.2 991.7L1200.2 1018.1L1204.8 1041.1L1209.8 1061L1215.3 1078.2L1218.4 1085.9M1223.7 1098.1L1227.6 1106.1L1234.4 1117.3L1241.5 1127L1249 1135.4L1256.8 1142.6L1264.8 1148.8L1273.2 1154.1L1281.7 1158.5L1290.5 1162.1L1299.4 1165L1308.5 1167.2L1317.7 1168.8L1326.9 1169.7L1336.2 1170L1345.5 1169.7L1354.7 1168.8L1363.9 1167.2L1372.9 1165L1381.9 1162.1L1390.7 1158.5L1399.2 1154.1L1407.6 1148.8L1415.6 1142.6L1423.4 1135.4L1430.9 1127L1438 1117.3L1444.8 1106.1L1448.7 1098.1M1455.6 1081.8L1457.1 1078.2L1462.6 1061L1467.6 1041.1L1472.2 1018.1L1476.2 991.7L1479.8 961.8L1482.8 928.3L1485.3 892.2L1487.2 855.8L1488.6 823L1489.5 799.6L1489.8 791.1M1191.5 791.1L1191.8 795.1L1192.6 806.7L1193.9 824.4L1194.7 833.8M1198.2 871.1L1200.9 894.8L1203.5 913.5M1205 923.3L1207.4 938M1217.5 984.2L1222.3 1000.4L1227.9 1016.4L1233.9 1030.6L1240.2 1043.3L1247 1054.5L1254 1064.4L1261.3 1073L1269 1080.5L1276.8 1086.9L1284.9 1092.3L1293.1 1096.8L1301.6 1100.4L1310.1 1103.2L1318.8 1105.2L1327.5 1106.3L1336.2 1106.7L1344.9 1106.3L1353.6 1105.2L1362.3 1103.2L1370.8 1100.4L1379.2 1096.8L1387.5 1092.3L1395.6 1086.9L1403.4 1080.5L1411.1 1073L1418.4 1064.4L1425.4 1054.5L1432.1 1043.3L1438.5 1030.6L1444.5 1016.4L1450.1 1000.4L1455.3 982.7L1456.4 978M1465.5 934.5L1467.4 923.3M1469.5 909.1L1471.5 894.8L1472.9 882.5M1473.5 877L1474.2 871.1M1477.7 833.8L1478.5 824.4L1479.8 806.7L1480.6 795.1L1480.9 791.1M1200.5 791.1L1200.7 793.5L1201.5 800.8L1202.7 812.2L1204.4 826.9L1206.3 840.9M1206.5 842.9L1206.6 843.8L1209.3 862.1L1212.5 880.9L1216 899.6L1220.1 917.7L1224.5 935L1229.4 951.1L1234.6 966L1240.2 979.7L1246.2 992.1L1252.5 1003.3L1259.1 1013.3L1266 1022.2L1273.1 1030L1280.5 1036.7L1288.1 1042.5L1295.8 1047.2L1303.7 1051.1L1311.7 1054.1L1319.8 1056.2L1328 1057.5L1336.2 1057.9L1344.4 1057.5L1352.6 1056.2L1360.7 1054.1L1368.7 1051.1L1376.6 1047.2L1384.3 1042.5L1391.9 1036.7L1399.3 1030L1406.4 1022.2L1413.3 1013.3L1419.9 1003.3L1426.2 992.1L1432.1 979.7L1437.8 966L1443 951.1L1447.9 935L1452.3 917.7L1456.3 899.6L1459.9 880.9L1463.1 862.1L1465.7 843.8L1467.9 826.9L1469.7 812.2L1470.9 800.8L1471.6 793.5L1471.9 791.1M1209.7 791.1L1209.9 792.8L1210.6 797.7L1211.8 805.7L1213.4 816.2L1215.4 828.6L1217.9 842.4L1220.9 857.1L1224.2 872.1L1228 887L1232.1 901.6L1236.6 915.6L1241.5 928.9L1246.8 941.3L1252.3 952.7L1258.2 963.2L1264.3 972.7L1270.8 981.2L1277.4 988.8L1284.3 995.4L1291.3 1001.1L1298.6 1005.9L1305.9 1009.7L1313.4 1012.7L1321 1014.8L1328.6 1016.1L1336.2 1016.5L1343.8 1016.1L1351.4 1014.8L1359 1012.7L1366.5 1009.7L1373.8 1005.9L1381 1001.1L1388.1 995.4L1395 988.8L1401.6 981.2L1408 972.7L1414.2 963.2L1420.1 952.7L1425.6 941.3L1430.9 928.9L1435.8 915.6L1440.3 901.6L1444.4 887L1448.2 872.1L1451.5 857.1L1454.5 842.4L1456.9 828.6L1459 816.2L1460.6 805.7L1461.8 797.7L1462.4 792.8L1462.7 791.1M1219.2 791.1L1219.5 792.3L1220.1 795.8L1221.2 801.6L1222.6 809.3L1224.5 818.6L1226.8 829.1L1229.5 840.5L1232.6 852.4L1236.1 864.5L1239.9 876.6L1244.1 888.4L1248.7 899.8L1253.5 910.6L1258.6 920.7L1264.1 930.1L1269.8 938.8L1275.7 946.6L1281.8 953.7L1288.2 959.8L1294.7 965.2L1301.4 969.7L1308.2 973.4L1315.1 976.2L1322.1 978.3L1329.1 979.5L1336.2 979.9L1343.3 979.5L1350.3 978.3L1357.3 976.2L1364.2 973.4L1371 969.7L1377.7 965.2L1384.2 959.8L1390.5 953.7L1396.7 946.6L1402.6 938.8L1408.3 930.1L1413.8 920.7L1418.9 910.6L1423.7 899.8L1428.3 888.4L1432.5 876.6L1436.3 864.5L1439.8 852.4L1442.9 840.5L1445.6 829.1L1447.9 818.6L1449.8 809.3L1451.2 801.6L1452.3 795.8L1452.9 792.3L1453.2 791.1M1229.2 791.1L1229.4 791.9L1230 794.5L1230.9 798.8L1232.3 804.4L1234 811.4L1236.1 819.4L1238.6 828.1L1241.4 837.4L1244.6 847.1L1248.1 856.8L1252 866.5L1256.1 876L1260.5 885.1L1265.2 893.8L1270.2 902L1275.4 909.6L1280.8 916.5L1286.5 922.8L1292.3 928.3L1298.3 933.1L1304.4 937.2L1310.6 940.6L1316.9 943.2L1323.3 945.1L1329.7 946.2L1336.2 946.6L1342.7 946.2L1349.1 945.1L1355.5 943.2L1361.8 940.6L1368 937.2L1374.1 933.1L1380.1 928.3L1385.9 922.8L1391.6 916.5L1397 909.6L1402.2 902L1407.2 893.8L1411.9 885.1L1416.3 876L1420.4 866.5L1424.3 856.8L1427.8 847.1L1430.9 837.4L1433.8 828.1L1436.2 819.4L1438.4 811.4L1440.1 804.4L1441.4 798.8L1442.4 794.5L1443 791.9L1443.2 791.1M1239.8 791.1L1239.9 791.7L1240.5 793.6L1241.3 796.6L1242.6 800.8L1244.1 805.9L1246 811.9L1248.3 818.5L1250.8 825.6L1253.7 833.1L1256.8 840.8L1260.3 848.5L1264 856.1L1268 863.5L1272.2 870.7L1276.7 877.5L1281.4 883.8L1286.3 889.7L1291.4 895.1L1296.6 899.8L1302 904L1307.5 907.6L1313.1 910.5L1318.8 912.8L1324.6 914.5L1330.4 915.5L1336.2 915.8L1342 915.5L1347.8 914.5L1353.6 912.8L1359.3 910.5L1364.9 907.6L1370.4 904L1375.8 899.8L1381 895.1L1386.1 889.7L1391 883.8L1395.7 877.5L1400.1 870.7L1404.4 863.5L1408.4 856.1L1412.1 848.5L1415.6 840.8L1418.7 833.1L1421.6 825.6L1424.1 818.5L1426.4 811.9L1428.3 805.9L1429.8 800.8L1431.1 796.6L1431.9 793.6L1432.5 791.7L1432.6 791.1M1251.2 791.1L1251.3 791.5L1251.8 792.8L1252.6 795L1253.7 798L1255 801.6L1256.7 805.9L1258.7 810.8L1260.9 816L1263.4 821.6L1266.2 827.3L1269.3 833.2L1272.6 839L1276.1 844.8L1279.8 850.4L1283.8 855.8L1287.9 860.8L1292.2 865.6L1296.7 869.9L1301.3 873.8L1306.1 877.2L1310.9 880.2L1315.9 882.6L1320.9 884.5L1325.9 885.9L1331.1 886.7L1336.2 887L1341.3 886.7L1346.4 885.9L1351.5 884.5L1356.5 882.6L1361.5 880.2L1366.3 877.2L1371.1 873.8L1375.7 869.9L1380.2 865.6L1384.5 860.8L1388.6 855.8L1392.6 850.4L1396.3 844.8L1399.8 839L1403.1 833.2L1406.2 827.3L1408.9 821.6L1411.5 816L1413.7 810.8L1415.7 805.9L1417.4 801.6L1418.7 798L1419.8 795L1420.6 792.8L1421 791.5L1421.2 791.1M1264 791.1L1264.1 791.3L1264.5 792.2L1265.1 793.7L1266.1 795.7L1267.2 798.1L1268.6 801L1270.3 804.3L1272.2 807.9L1274.4 811.8L1276.7 815.8L1279.3 820L1282.1 824.1L1285.1 828.3L1288.3 832.3L1291.6 836.3L1295.2 840L1298.8 843.5L1302.6 846.8L1306.5 849.7L1310.6 852.3L1314.7 854.6L1318.9 856.4L1323.2 857.9L1327.5 858.9L1331.8 859.6L1336.2 859.8L1340.6 859.6L1344.9 858.9L1349.2 857.9L1353.5 856.4L1357.7 854.6L1361.8 852.3L1365.8 849.7L1369.8 846.8L1373.6 843.5L1377.2 840L1380.8 836.3L1384.1 832.3L1387.3 828.3L1390.3 824.1L1393.1 820L1395.7 815.8L1398 811.8L1400.2 807.9L1402.1 804.3L1403.7 801L1405.2 798.1L1406.3 795.7L1407.3 793.7L1407.9 792.2L1408.3 791.3L1408.4 791.1" fill="none"/>
</g>
<path d="M87.8 143.22H696.33V597.2" fill="none" stroke="#000" stroke-width="1.7"/>
<path d="M87.8 143.22H696.33V597.2" fill="none" stroke="#000" stroke-width="2.6" stroke-dasharray="1.7 1.6"/>
<path d="M902.2 145.8H1511.83" fill="none" stroke="#000" stroke-width="2.2"/>
<path d="M1511.03 145.8V599.5" fill="none" stroke="#000" stroke-width="1.5"/>
<path d="M1511.03 145.8V599.5" fill="none" stroke="#000" stroke-width="2.5" stroke-dasharray="1.7 1.6"/>
<path d="M199.6 837.62H1498.56V1322" fill="none" stroke="#000" stroke-width="1.4"/>
<path d="M87.57 113.3V597.46H706.7" fill="none" stroke="#000" stroke-width="2.7" stroke-linejoin="miter"/>
<path d="M101.5 597.5v-13.6M198.3 597.5v-13.6M295 597.5v-13.6M391.8 597.5v-13.6M488.5 597.5v-13.6M585.3 597.5v-13.6M682 597.5v-13.6M87.6 597.2h13.6M87.6 510h13.6M87.6 422.7h13.6M87.6 335.5h13.6M87.6 248.2h13.6M87.6 161h13.6" fill="none" stroke="#000" stroke-width="2.4"/>
<path d="M120.9 597.5v-8.3M140.2 597.5v-8.3M159.6 597.5v-8.3M178.9 597.5v-8.3M217.6 597.5v-8.3M237 597.5v-8.3M256.3 597.5v-8.3M275.7 597.5v-8.3M314.4 597.5v-8.3M333.7 597.5v-8.3M353.1 597.5v-8.3M372.4 597.5v-8.3M411.1 597.5v-8.3M430.5 597.5v-8.3M449.8 597.5v-8.3M469.2 597.5v-8.3M507.9 597.5v-8.3M527.2 597.5v-8.3M546.6 597.5v-8.3M565.9 597.5v-8.3M604.6 597.5v-8.3M624 597.5v-8.3M643.3 597.5v-8.3M662.7 597.5v-8.3M87.6 579.8h8.3M87.6 562.3h8.3M87.6 544.9h8.3M87.6 527.4h8.3M87.6 492.5h8.3M87.6 475.1h8.3M87.6 457.6h8.3M87.6 440.2h8.3M87.6 405.3h8.3M87.6 387.8h8.3M87.6 370.4h8.3M87.6 352.9h8.3M87.6 318h8.3M87.6 300.6h8.3M87.6 283.1h8.3M87.6 265.7h8.3M87.6 230.8h8.3M87.6 213.4h8.3M87.6 195.9h8.3M87.6 178.5h8.3" fill="none" stroke="#000" stroke-width="1.6"/>
<g font-size="33" text-anchor="end">
<text x="73.2" y="608">0</text>
<text x="73.2" y="520.8">0.05</text>
<text x="73.2" y="433.5">0.1</text>
<text x="73.2" y="346.3">0.15</text>
<text x="73.2" y="259.1">0.2</text>
<text x="73.2" y="171.8">0.25</text>
</g>
<g font-size="33" text-anchor="middle">
<text x="101.5" y="627.3">-1.5</text>
<text x="198.3" y="627.3">-1</text>
<text x="295" y="627.3">-0.5</text>
<text x="391.8" y="627.3">0</text>
<text x="488.5" y="627.3">0.5</text>
<text x="585.3" y="627.3">1</text>
<text x="682" y="627.3">1.5</text>
</g>
<path d="M902.35 118.5V599.46H1524.3" fill="none" stroke="#000" stroke-width="2.7" stroke-linejoin="miter"/>
<path d="M915.9 599.5v-13.6M1012.7 599.5v-13.6M1109.6 599.5v-13.6M1206.4 599.5v-13.6M1303.2 599.5v-13.6M1400.1 599.5v-13.6M1496.9 599.5v-13.6M902.4 599.5h13.6M902.4 512.2h13.6M902.4 425h13.6M902.4 337.8h13.6M902.4 250.5h13.6M902.4 163.2h13.6" fill="none" stroke="#000" stroke-width="2.4"/>
<path d="M935.2 599.5v-8.3M954.6 599.5v-8.3M974 599.5v-8.3M993.4 599.5v-8.3M1032.1 599.5v-8.3M1051.5 599.5v-8.3M1070.8 599.5v-8.3M1090.2 599.5v-8.3M1128.9 599.5v-8.3M1148.3 599.5v-8.3M1167.7 599.5v-8.3M1187 599.5v-8.3M1225.8 599.5v-8.3M1245.1 599.5v-8.3M1264.5 599.5v-8.3M1283.9 599.5v-8.3M1322.6 599.5v-8.3M1342 599.5v-8.3M1361.3 599.5v-8.3M1380.7 599.5v-8.3M1419.4 599.5v-8.3M1438.8 599.5v-8.3M1458.2 599.5v-8.3M1477.6 599.5v-8.3M902.4 582h8.3M902.4 564.6h8.3M902.4 547.1h8.3M902.4 529.7h8.3M902.4 494.8h8.3M902.4 477.4h8.3M902.4 459.9h8.3M902.4 442.5h8.3M902.4 407.6h8.3M902.4 390.1h8.3M902.4 372.6h8.3M902.4 355.2h8.3M902.4 320.3h8.3M902.4 302.8h8.3M902.4 285.4h8.3M902.4 267.9h8.3M902.4 233.1h8.3M902.4 215.6h8.3M902.4 198.1h8.3M902.4 180.7h8.3" fill="none" stroke="#000" stroke-width="1.6"/>
<g font-size="33" text-anchor="end">
<text x="887.8" y="610.3">0</text>
<text x="887.8" y="523.1">0.05</text>
<text x="887.8" y="435.8">0.1</text>
<text x="887.8" y="348.6">0.15</text>
<text x="887.8" y="261.3">0.2</text>
<text x="887.8" y="174.1">0.25</text>
</g>
<g font-size="33" text-anchor="middle">
<text x="915.9" y="629">-1.5</text>
<text x="1012.7" y="629">-1</text>
<text x="1109.6" y="629">-0.5</text>
<text x="1206.4" y="629">0</text>
<text x="1303.2" y="629">0.5</text>
<text x="1400.1" y="629">1</text>
<text x="1496.9" y="629">1.5</text>
</g>
<path d="M199.5 808.9V1321.6H1499.9" fill="none" stroke="#000" stroke-width="2.85" stroke-linejoin="miter"/>
<path d="M228.9 1321.6v-14.3M435.6 1321.6v-14.3M642.4 1321.6v-14.3M849.1 1321.6v-14.3M1055.8 1321.6v-14.3M1262.6 1321.6v-14.3M1469.3 1321.6v-14.3M199.5 1322h14.3M199.5 1228.8h14.3M199.5 1135.7h14.3M199.5 1042.5h14.3M199.5 949.4h14.3M199.5 856.2h14.3" fill="none" stroke="#000" stroke-width="2.4"/>
<path d="M270.3 1321.6v-8.6M311.6 1321.6v-8.6M352.9 1321.6v-8.6M394.3 1321.6v-8.6M477 1321.6v-8.6M518.3 1321.6v-8.6M559.7 1321.6v-8.6M601 1321.6v-8.6M683.7 1321.6v-8.6M725.1 1321.6v-8.6M766.4 1321.6v-8.6M807.8 1321.6v-8.6M890.4 1321.6v-8.6M931.8 1321.6v-8.6M973.1 1321.6v-8.6M1014.5 1321.6v-8.6M1097.2 1321.6v-8.6M1138.5 1321.6v-8.6M1179.9 1321.6v-8.6M1221.2 1321.6v-8.6M1303.9 1321.6v-8.6M1345.3 1321.6v-8.6M1386.6 1321.6v-8.6M1427.9 1321.6v-8.6M199.5 1303.3h8.6M199.5 1284.7h8.6M199.5 1266.1h8.6M199.5 1247.4h8.6M199.5 1210.2h8.6M199.5 1191.6h8.6M199.5 1172.9h8.6M199.5 1154.3h8.6M199.5 1117h8.6M199.5 1098.4h8.6M199.5 1079.8h8.6M199.5 1061.2h8.6M199.5 1023.9h8.6M199.5 1005.3h8.6M199.5 986.6h8.6M199.5 968h8.6M199.5 930.8h8.6M199.5 912.1h8.6M199.5 893.5h8.6M199.5 874.9h8.6" fill="none" stroke="#000" stroke-width="1.2"/>
<g font-size="35.2" text-anchor="end">
<text x="183.9" y="1333.5">0</text>
<text x="183.9" y="1240.4">0.05</text>
<text x="183.9" y="1147.2">0.1</text>
<text x="183.9" y="1054.1">0.15</text>
<text x="183.9" y="960.9">0.2</text>
<text x="183.9" y="867.8">0.25</text>
</g>
<g font-size="35.2" text-anchor="middle">
<text x="228.9" y="1353">-3</text>
<text x="435.6" y="1353">-2</text>
<text x="642.4" y="1353">-1</text>
<text x="849.1" y="1353">0</text>
<text x="1055.8" y="1353">1</text>
<text x="1262.6" y="1353">2</text>
<text x="1469.3" y="1353">3</text>
</g>
<rect x="149.5" y="29.6" width="27" height="44.6" fill="#0000ff"/>
<rect x="176.2" y="29.6" width="27" height="44.6" fill="#0044ff"/>
<rect x="202.9" y="29.6" width="27" height="44.6" fill="#0088ff"/>
<rect x="229.6" y="29.6" width="27" height="44.6" fill="#00ccff"/>
<rect x="256.3" y="29.6" width="27" height="44.6" fill="#00ffee"/>
<rect x="283" y="29.6" width="27" height="44.6" fill="#00ffaa"/>
<rect x="309.7" y="29.6" width="27" height="44.6" fill="#00ff66"/>
<rect x="336.4" y="29.6" width="27" height="44.6" fill="#00ff22"/>
<rect x="363.1" y="29.6" width="27" height="44.6" fill="#22ff00"/>
<rect x="389.7" y="29.6" width="27" height="44.6" fill="#66ff00"/>
<rect x="416.4" y="29.6" width="27" height="44.6" fill="#aaff00"/>
<rect x="443.1" y="29.6" width="27" height="44.6" fill="#eeff00"/>
<rect x="469.8" y="29.6" width="27" height="44.6" fill="#ffcc00"/>
<rect x="496.5" y="29.6" width="27" height="44.6" fill="#ff8800"/>
<rect x="523.2" y="29.6" width="27" height="44.6" fill="#ff4400"/>
<rect x="549.9" y="29.6" width="27" height="44.6" fill="#ff0000"/>
<path d="M149.5 29.6V74.2M176.2 29.6V74.2M202.9 29.6V74.2M229.6 29.6V74.2M256.3 29.6V74.2M283 29.6V74.2M309.7 29.6V74.2M336.4 29.6V74.2M363.1 29.6V74.2M389.7 29.6V74.2M416.4 29.6V74.2M443.1 29.6V74.2M469.8 29.6V74.2M496.5 29.6V74.2M523.2 29.6V74.2M549.9 29.6V74.2M576.6 29.6V74.2M149.5 29.6H576.6M149.5 74.2H576.6" fill="none" stroke="#000" stroke-width="1.6" stroke-linecap="square"/>
<g font-size="33" text-anchor="middle">
<text x="152.3" y="102.7">0</text>
<text x="279.3" y="102.7">0.07</text>
<text x="417.8" y="102.7">0.14</text>
<text x="576.3" y="102.7">0.224</text>
</g>
<rect x="964.2" y="31.7" width="21.7" height="44.6" fill="#0000ff"/>
<rect x="985.6" y="31.7" width="21.7" height="44.6" fill="#0036ff"/>
<rect x="1006.9" y="31.7" width="21.7" height="44.6" fill="#006bff"/>
<rect x="1028.3" y="31.7" width="21.7" height="44.6" fill="#00a1ff"/>
<rect x="1049.6" y="31.7" width="21.7" height="44.6" fill="#00d7ff"/>
<rect x="1071" y="31.7" width="21.7" height="44.6" fill="#00fff2"/>
<rect x="1092.3" y="31.7" width="21.7" height="44.6" fill="#00ffbc"/>
<rect x="1113.7" y="31.7" width="21.7" height="44.6" fill="#00ff86"/>
<rect x="1135" y="31.7" width="21.7" height="44.6" fill="#00ff51"/>
<rect x="1156.4" y="31.7" width="21.7" height="44.6" fill="#00ff1b"/>
<rect x="1177.8" y="31.7" width="21.7" height="44.6" fill="#1bff00"/>
<rect x="1199.1" y="31.7" width="21.7" height="44.6" fill="#51ff00"/>
<rect x="1220.5" y="31.7" width="21.7" height="44.6" fill="#86ff00"/>
<rect x="1241.8" y="31.7" width="21.7" height="44.6" fill="#bcff00"/>
<rect x="1263.2" y="31.7" width="21.7" height="44.6" fill="#f2ff00"/>
<rect x="1284.5" y="31.7" width="21.7" height="44.6" fill="#ffd700"/>
<rect x="1305.9" y="31.7" width="21.7" height="44.6" fill="#ffa100"/>
<rect x="1327.2" y="31.7" width="21.7" height="44.6" fill="#ff6b00"/>
<rect x="1348.6" y="31.7" width="21.7" height="44.6" fill="#ff3600"/>
<rect x="1369.9" y="31.7" width="21.7" height="44.6" fill="#ff0000"/>
<path d="M964.2 31.7V76.3M985.6 31.7V76.3M1006.9 31.7V76.3M1028.3 31.7V76.3M1049.6 31.7V76.3M1071 31.7V76.3M1092.3 31.7V76.3M1113.7 31.7V76.3M1135 31.7V76.3M1156.4 31.7V76.3M1177.8 31.7V76.3M1199.1 31.7V76.3M1220.5 31.7V76.3M1241.8 31.7V76.3M1263.2 31.7V76.3M1284.5 31.7V76.3M1305.9 31.7V76.3M1327.2 31.7V76.3M1348.6 31.7V76.3M1369.9 31.7V76.3M1391.3 31.7V76.3M964.2 31.7H1391.3M964.2 76.3H1391.3" fill="none" stroke="#000" stroke-width="1.6" stroke-linecap="square"/>
<g font-size="33" text-anchor="middle">
<text x="964.2" y="104.2">-0.71</text>
<text x="1177.8" y="104.2">0</text>
<text x="1391.3" y="104.2">0.71</text>
</g>
<rect x="332.3" y="716.2" width="52" height="47.1" fill="#0031ff"/>
<rect x="384" y="716.2" width="52" height="47.1" fill="#0061ff"/>
<rect x="435.6" y="716.2" width="52" height="47.1" fill="#0092ff"/>
<rect x="487.3" y="716.2" width="52" height="47.1" fill="#00c2ff"/>
<rect x="539" y="716.2" width="52" height="47.1" fill="#00f3ff"/>
<rect x="590.7" y="716.2" width="52" height="47.1" fill="#00ffdb"/>
<rect x="642.3" y="716.2" width="52" height="47.1" fill="#00ffaa"/>
<rect x="694" y="716.2" width="52" height="47.1" fill="#00ff79"/>
<rect x="745.7" y="716.2" width="52" height="47.1" fill="#00ff49"/>
<rect x="797.3" y="716.2" width="52" height="47.1" fill="#00ff18"/>
<rect x="849" y="716.2" width="52" height="47.1" fill="#18ff00"/>
<rect x="900.7" y="716.2" width="52" height="47.1" fill="#49ff00"/>
<rect x="952.3" y="716.2" width="52" height="47.1" fill="#79ff00"/>
<rect x="1004" y="716.2" width="52" height="47.1" fill="#aaff00"/>
<rect x="1055.7" y="716.2" width="52" height="47.1" fill="#dbff00"/>
<rect x="1107.4" y="716.2" width="52" height="47.1" fill="#fff300"/>
<rect x="1159" y="716.2" width="52" height="47.1" fill="#ffc200"/>
<rect x="1210.7" y="716.2" width="52" height="47.1" fill="#ff9200"/>
<rect x="1262.4" y="716.2" width="52" height="47.1" fill="#ff6100"/>
<rect x="1314" y="716.2" width="52" height="47.1" fill="#ff3100"/>
<path d="M332.3 716.2V763.3M384 716.2V763.3M435.6 716.2V763.3M487.3 716.2V763.3M539 716.2V763.3M590.7 716.2V763.3M642.3 716.2V763.3M694 716.2V763.3M745.7 716.2V763.3M797.3 716.2V763.3M849 716.2V763.3M900.7 716.2V763.3M952.3 716.2V763.3M1004 716.2V763.3M1055.7 716.2V763.3M1107.4 716.2V763.3M1159 716.2V763.3M1210.7 716.2V763.3M1262.4 716.2V763.3M1314 716.2V763.3M1365.7 716.2V763.3M332.3 716.2H1365.7M332.3 763.3H1365.7" fill="none" stroke="#000" stroke-width="1.4" stroke-linecap="square"/>
<g font-size="34.8" text-anchor="middle">
<text x="333.3" y="797.2">-0.066</text>
<text x="590.7" y="797.2">-0.033</text>
<text x="849" y="797.2">0</text>
<text x="1107.4" y="797.2">0.033</text>
<text x="1365.7" y="797.2">0.066</text>
</g>
<text><tspan x="582" y="40.8" font-size="39.5" class="i t" textLength="25.71" lengthAdjust="spacingAndGlyphs">T</tspan><tspan x="620.2" y="39.6" font-size="26" textLength="27.57" lengthAdjust="spacingAndGlyphs">−</tspan><tspan x="657.5" y="40.8" font-size="38" class="t">2</tspan><tspan x="676.3" y="40.8" font-size="35.5" class="i t" textLength="19.39" lengthAdjust="spacingAndGlyphs">π</tspan></text>
<text><tspan x="1401.7" y="41.2" font-size="37.3" class="i t">θ</tspan><tspan x="1429.8" y="40" font-size="26" textLength="27.57" lengthAdjust="spacingAndGlyphs">−</tspan><tspan x="1467.1" y="41.2" font-size="38" class="t">2</tspan><tspan x="1485.8" y="41.2" font-size="35.5" class="i t" textLength="19.39" lengthAdjust="spacingAndGlyphs">π</tspan></text>
<text><tspan x="1382.8" y="719.3" font-size="34.5" class="i t" textLength="25.29" lengthAdjust="spacingAndGlyphs">P</tspan><tspan x="1404.7" y="724.6" font-size="22.5" class="i" textLength="12.88" lengthAdjust="spacingAndGlyphs">x</tspan></text>
<text><tspan x="381.5" y="666.2" font-size="37.1" class="i t" textLength="20.32" lengthAdjust="spacingAndGlyphs">β</tspan></text>
<text><tspan x="1196.1" y="667.3" font-size="37.1" class="i t" textLength="20.32" lengthAdjust="spacingAndGlyphs">β</tspan></text>
<text><tspan x="835.6" y="1393.8" font-size="37.8" class="i t" textLength="20.71" lengthAdjust="spacingAndGlyphs">β</tspan></text>
<text><tspan x="19.2" y="113.6" font-size="47.5" class="t" textLength="30.23" lengthAdjust="spacingAndGlyphs">√</tspan><tspan x="51.6" y="111.5" font-size="40" class="i t" textLength="27.61" lengthAdjust="spacingAndGlyphs">E</tspan></text>
<path d="M48.6 76.7H79" stroke="#000" stroke-width="1.3" fill="none"/>
<text><tspan x="833.4" y="115.1" font-size="47.5" class="t" textLength="30.23" lengthAdjust="spacingAndGlyphs">√</tspan><tspan x="865.8" y="113" font-size="40" class="i t" textLength="27.61" lengthAdjust="spacingAndGlyphs">E</tspan></text>
<path d="M862.8 78.2H893.2" stroke="#000" stroke-width="1.3" fill="none"/>
<text><tspan x="129.9" y="804" font-size="47.5" class="t" textLength="30.23" lengthAdjust="spacingAndGlyphs">√</tspan><tspan x="162.3" y="801.9" font-size="40" class="i t" textLength="27.61" lengthAdjust="spacingAndGlyphs">E</tspan></text>
<path d="M159.3 767.1H189.7" stroke="#000" stroke-width="1.3" fill="none"/>
</svg></body></html>
